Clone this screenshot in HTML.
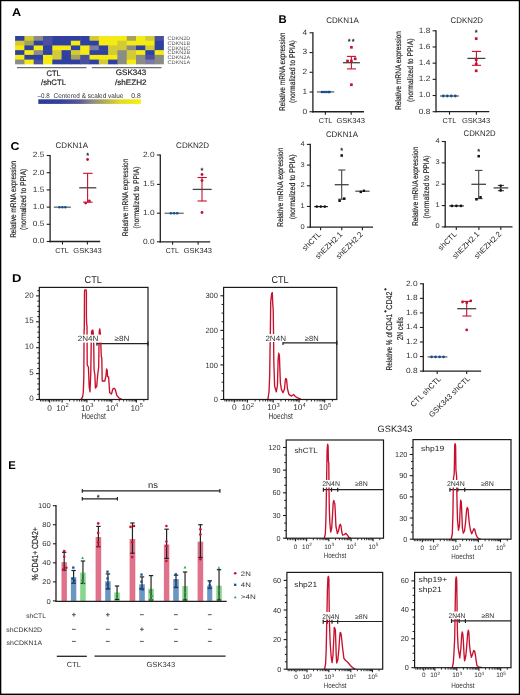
<!DOCTYPE html><html><head><meta charset="utf-8"><style>html,body{margin:0;padding:0;background:#fff;width:520px;height:695px;overflow:hidden;font-family:"Liberation Sans",sans-serif}</style></head><body><svg width="520" height="695" viewBox="0 0 520 695" style="position:absolute;left:0;top:0;will-change:transform" text-rendering="geometricPrecision" font-family='"Liberation Sans", sans-serif'>
<rect x="0" y="0" width="520" height="695" fill="#fff" />
<text transform="translate(11.9,15.8) scale(1.12,1)" x="0" y="0" font-size="11.3" font-weight="bold" fill="#000">A</text>
<rect x="15.1" y="36" width="9.9" height="5.32" fill="#2f40a0" />
<rect x="24.4" y="36" width="9.9" height="5.32" fill="#d2cb36" />
<rect x="33.7" y="36" width="9.9" height="5.32" fill="#8c8c86" />
<rect x="43" y="36" width="9.9" height="5.32" fill="#4a50a0" />
<rect x="52.3" y="36" width="9.9" height="5.32" fill="#2f40a0" />
<rect x="61.6" y="36" width="9.9" height="5.32" fill="#2f40a0" />
<rect x="70.9" y="36" width="9.9" height="5.32" fill="#2f40a0" />
<rect x="80.2" y="36" width="9.9" height="5.32" fill="#2f40a0" />
<rect x="89.5" y="36" width="9.9" height="5.32" fill="#d2cb36" />
<rect x="98.8" y="36" width="9.9" height="5.32" fill="#f5ea14" />
<rect x="108.1" y="36" width="9.9" height="5.32" fill="#f5ea14" />
<rect x="117.4" y="36" width="9.9" height="5.32" fill="#f5ea14" />
<rect x="126.7" y="36" width="9.9" height="5.32" fill="#a6a25a" />
<rect x="136" y="36" width="9.9" height="5.32" fill="#f5ea14" />
<rect x="145.3" y="36" width="9.9" height="5.32" fill="#d2cb36" />
<rect x="154.6" y="36" width="9.3" height="5.32" fill="#4a50a0" />
<rect x="15.1" y="40.72" width="9.9" height="5.32" fill="#d2cb36" />
<rect x="24.4" y="40.72" width="9.9" height="5.32" fill="#a6a25a" />
<rect x="33.7" y="40.72" width="9.9" height="5.32" fill="#2f40a0" />
<rect x="43" y="40.72" width="9.9" height="5.32" fill="#4a50a0" />
<rect x="52.3" y="40.72" width="9.9" height="5.32" fill="#2f40a0" />
<rect x="61.6" y="40.72" width="9.9" height="5.32" fill="#2f40a0" />
<rect x="70.9" y="40.72" width="9.9" height="5.32" fill="#f5ea14" />
<rect x="80.2" y="40.72" width="9.9" height="5.32" fill="#2f40a0" />
<rect x="89.5" y="40.72" width="9.9" height="5.32" fill="#2f40a0" />
<rect x="98.8" y="40.72" width="9.9" height="5.32" fill="#f5ea14" />
<rect x="108.1" y="40.72" width="9.9" height="5.32" fill="#f5ea14" />
<rect x="117.4" y="40.72" width="9.9" height="5.32" fill="#d2cb36" />
<rect x="126.7" y="40.72" width="9.9" height="5.32" fill="#f5ea14" />
<rect x="136" y="40.72" width="9.9" height="5.32" fill="#f5ea14" />
<rect x="145.3" y="40.72" width="9.9" height="5.32" fill="#f5ea14" />
<rect x="154.6" y="40.72" width="9.3" height="5.32" fill="#2f40a0" />
<rect x="15.1" y="45.44" width="9.9" height="5.32" fill="#f5ea14" />
<rect x="24.4" y="45.44" width="9.9" height="5.32" fill="#2f40a0" />
<rect x="33.7" y="45.44" width="9.9" height="5.32" fill="#f5ea14" />
<rect x="43" y="45.44" width="9.9" height="5.32" fill="#2f40a0" />
<rect x="52.3" y="45.44" width="9.9" height="5.32" fill="#f5ea14" />
<rect x="61.6" y="45.44" width="9.9" height="5.32" fill="#f5ea14" />
<rect x="70.9" y="45.44" width="9.9" height="5.32" fill="#2f40a0" />
<rect x="80.2" y="45.44" width="9.9" height="5.32" fill="#f5ea14" />
<rect x="89.5" y="45.44" width="9.9" height="5.32" fill="#7c7aa2" />
<rect x="98.8" y="45.44" width="9.9" height="5.32" fill="#2f40a0" />
<rect x="108.1" y="45.44" width="9.9" height="5.32" fill="#d2cb36" />
<rect x="117.4" y="45.44" width="9.9" height="5.32" fill="#d2cb36" />
<rect x="126.7" y="45.44" width="9.9" height="5.32" fill="#8c8c86" />
<rect x="136" y="45.44" width="9.9" height="5.32" fill="#2f40a0" />
<rect x="145.3" y="45.44" width="9.9" height="5.32" fill="#d2cb36" />
<rect x="154.6" y="45.44" width="9.3" height="5.32" fill="#2f40a0" />
<rect x="15.1" y="50.16" width="9.9" height="5.32" fill="#2f40a0" />
<rect x="24.4" y="50.16" width="9.9" height="5.32" fill="#f5ea14" />
<rect x="33.7" y="50.16" width="9.9" height="5.32" fill="#8c8c86" />
<rect x="43" y="50.16" width="9.9" height="5.32" fill="#2f40a0" />
<rect x="52.3" y="50.16" width="9.9" height="5.32" fill="#d2cb36" />
<rect x="61.6" y="50.16" width="9.9" height="5.32" fill="#2f40a0" />
<rect x="70.9" y="50.16" width="9.9" height="5.32" fill="#d2cb36" />
<rect x="80.2" y="50.16" width="9.9" height="5.32" fill="#f5ea14" />
<rect x="89.5" y="50.16" width="9.9" height="5.32" fill="#2f40a0" />
<rect x="98.8" y="50.16" width="9.9" height="5.32" fill="#2f40a0" />
<rect x="108.1" y="50.16" width="9.9" height="5.32" fill="#d2cb36" />
<rect x="117.4" y="50.16" width="9.9" height="5.32" fill="#8c8c86" />
<rect x="126.7" y="50.16" width="9.9" height="5.32" fill="#d2cb36" />
<rect x="136" y="50.16" width="9.9" height="5.32" fill="#f5ea14" />
<rect x="145.3" y="50.16" width="9.9" height="5.32" fill="#2f40a0" />
<rect x="154.6" y="50.16" width="9.3" height="5.32" fill="#f5ea14" />
<rect x="15.1" y="54.88" width="9.9" height="5.32" fill="#f5ea14" />
<rect x="24.4" y="54.88" width="9.9" height="5.32" fill="#2f40a0" />
<rect x="33.7" y="54.88" width="9.9" height="5.32" fill="#2f40a0" />
<rect x="43" y="54.88" width="9.9" height="5.32" fill="#f5ea14" />
<rect x="52.3" y="54.88" width="9.9" height="5.32" fill="#d2cb36" />
<rect x="61.6" y="54.88" width="9.9" height="5.32" fill="#2f40a0" />
<rect x="70.9" y="54.88" width="9.9" height="5.32" fill="#a6a25a" />
<rect x="80.2" y="54.88" width="9.9" height="5.32" fill="#4a50a0" />
<rect x="89.5" y="54.88" width="9.9" height="5.32" fill="#f5ea14" />
<rect x="98.8" y="54.88" width="9.9" height="5.32" fill="#f5ea14" />
<rect x="108.1" y="54.88" width="9.9" height="5.32" fill="#f5ea14" />
<rect x="117.4" y="54.88" width="9.9" height="5.32" fill="#8c8c86" />
<rect x="126.7" y="54.88" width="9.9" height="5.32" fill="#d2cb36" />
<rect x="136" y="54.88" width="9.9" height="5.32" fill="#8c8c86" />
<rect x="145.3" y="54.88" width="9.9" height="5.32" fill="#4a50a0" />
<rect x="154.6" y="54.88" width="9.3" height="5.32" fill="#8c8c86" />
<rect x="15.1" y="59.6" width="9.9" height="4.72" fill="#8c8c86" />
<rect x="24.4" y="59.6" width="9.9" height="4.72" fill="#f5ea14" />
<rect x="33.7" y="59.6" width="9.9" height="4.72" fill="#4a50a0" />
<rect x="43" y="59.6" width="9.9" height="4.72" fill="#f5ea14" />
<rect x="52.3" y="59.6" width="9.9" height="4.72" fill="#2f40a0" />
<rect x="61.6" y="59.6" width="9.9" height="4.72" fill="#2f40a0" />
<rect x="70.9" y="59.6" width="9.9" height="4.72" fill="#2f40a0" />
<rect x="80.2" y="59.6" width="9.9" height="4.72" fill="#4a50a0" />
<rect x="89.5" y="59.6" width="9.9" height="4.72" fill="#2f40a0" />
<rect x="98.8" y="59.6" width="9.9" height="4.72" fill="#d2cb36" />
<rect x="108.1" y="59.6" width="9.9" height="4.72" fill="#2f40a0" />
<rect x="117.4" y="59.6" width="9.9" height="4.72" fill="#8c8c86" />
<rect x="126.7" y="59.6" width="9.9" height="4.72" fill="#f5ea14" />
<rect x="136" y="59.6" width="9.9" height="4.72" fill="#8c8c86" />
<rect x="145.3" y="59.6" width="9.9" height="4.72" fill="#7c7aa2" />
<rect x="154.6" y="59.6" width="9.3" height="4.72" fill="#8c8c86" />
<text x="167.5" y="40.16" font-size="5.2" fill="#555" textLength="22.7" lengthAdjust="spacingAndGlyphs">CDKN2D</text>
<text x="167.5" y="44.88" font-size="5.2" fill="#555" textLength="22.7" lengthAdjust="spacingAndGlyphs">CDKN1B</text>
<text x="167.5" y="49.6" font-size="5.2" fill="#555" textLength="22.7" lengthAdjust="spacingAndGlyphs">CDKN1C</text>
<text x="167.5" y="54.32" font-size="5.2" fill="#555" textLength="22.7" lengthAdjust="spacingAndGlyphs">CDKN2B</text>
<text x="167.5" y="59.04" font-size="5.2" fill="#555" textLength="22.7" lengthAdjust="spacingAndGlyphs">CDKN2A</text>
<text x="167.5" y="63.76" font-size="5.2" fill="#555" textLength="22.7" lengthAdjust="spacingAndGlyphs">CDKN1A</text>
<line x1="16.9" y1="67.7" x2="86.5" y2="67.7" stroke="#6e6e6e" stroke-width="1.3"/>
<line x1="91.8" y1="67.7" x2="161.5" y2="67.7" stroke="#6e6e6e" stroke-width="1.3"/>
<text x="46.5" y="75.5" font-size="7.9" fill="#2a2a2a" stroke="#2a2a2a" stroke-width="0.22" textLength="14.1" lengthAdjust="spacingAndGlyphs">CTL</text>
<text x="41" y="84.7" font-size="7.9" fill="#2a2a2a" stroke="#2a2a2a" stroke-width="0.22" textLength="25" lengthAdjust="spacingAndGlyphs">/shCTL</text>
<text x="115.8" y="75.4" font-size="7.9" fill="#2a2a2a" stroke="#2a2a2a" stroke-width="0.22" textLength="30.5" lengthAdjust="spacingAndGlyphs">GSK343</text>
<text x="115" y="84.7" font-size="7.9" fill="#2a2a2a" stroke="#2a2a2a" stroke-width="0.22" textLength="31.5" lengthAdjust="spacingAndGlyphs">/shEZH2</text>
<defs><linearGradient id="cb" x1="0" x2="1" y1="0" y2="0"><stop offset="0" stop-color="#2b3b9c"/><stop offset="0.22" stop-color="#34409b"/><stop offset="0.4" stop-color="#5a5a92"/><stop offset="0.52" stop-color="#8a8982"/><stop offset="0.65" stop-color="#b3ad52"/><stop offset="0.8" stop-color="#e3dc22"/><stop offset="1" stop-color="#f6ee0c"/></linearGradient></defs>
<rect x="38.3" y="99.3" width="102.5" height="4.6" fill="url(#cb)" />
<text x="37.5" y="97.6" font-size="6.8" fill="#333" textLength="12.1" lengthAdjust="spacingAndGlyphs">–0.8</text>
<text x="53.6" y="97.6" font-size="6.8" fill="#333" textLength="69.7" lengthAdjust="spacingAndGlyphs">Centered &amp; scaled value</text>
<text x="131.3" y="97.6" font-size="6.8" fill="#333" textLength="9.5" lengthAdjust="spacingAndGlyphs">0.8</text>
<text transform="translate(278.6,23) scale(1.0,1)" x="0" y="0" font-size="11.3" font-weight="bold" fill="#000">B</text>
<text x="326.3" y="22.8" font-size="8.1" fill="#231f20" textLength="32.5" lengthAdjust="spacingAndGlyphs">CDKN1A</text>
<line x1="312.9" y1="32.2" x2="312.9" y2="112.4" stroke="#231f20" stroke-width="1.3"/>
<line x1="309.5" y1="111.75" x2="312.9" y2="111.75" stroke="#231f20" stroke-width="1.1"/>
<text x="307.2" y="113.65" font-size="7.6" text-anchor="end" fill="#333" textLength="4.65" lengthAdjust="spacingAndGlyphs">0</text>
<line x1="309.5" y1="92.01" x2="312.9" y2="92.01" stroke="#231f20" stroke-width="1.1"/>
<text x="307.2" y="93.91" font-size="7.6" text-anchor="end" fill="#333" textLength="4.65" lengthAdjust="spacingAndGlyphs">1</text>
<line x1="309.5" y1="72.28" x2="312.9" y2="72.28" stroke="#231f20" stroke-width="1.1"/>
<text x="307.2" y="74.18" font-size="7.6" text-anchor="end" fill="#333" textLength="4.65" lengthAdjust="spacingAndGlyphs">2</text>
<line x1="309.5" y1="52.54" x2="312.9" y2="52.54" stroke="#231f20" stroke-width="1.1"/>
<text x="307.2" y="54.44" font-size="7.6" text-anchor="end" fill="#333" textLength="4.65" lengthAdjust="spacingAndGlyphs">3</text>
<line x1="309.5" y1="32.8" x2="312.9" y2="32.8" stroke="#231f20" stroke-width="1.1"/>
<text x="307.2" y="34.7" font-size="7.6" text-anchor="end" fill="#333" textLength="4.65" lengthAdjust="spacingAndGlyphs">4</text>
<line x1="312.25" y1="111.75" x2="364" y2="111.75" stroke="#231f20" stroke-width="1.3"/>
<line x1="325.4" y1="111.75" x2="325.4" y2="114.75" stroke="#231f20" stroke-width="1.1"/>
<line x1="351.2" y1="111.75" x2="351.2" y2="114.75" stroke="#231f20" stroke-width="1.1"/>
<text x="318.7" y="123.1" font-size="7.2" fill="#231f20" textLength="13.7" lengthAdjust="spacingAndGlyphs">CTL</text>
<text x="336.4" y="123.1" font-size="7.2" fill="#231f20" textLength="28.6" lengthAdjust="spacingAndGlyphs">GSK343</text>
<text transform="translate(284.9,110.9) rotate(-90)" x="0" y="0" font-size="8.2" fill="#231f20" stroke="#231f20" stroke-width="0.18" textLength="78.4" lengthAdjust="spacingAndGlyphs">Relative mRNA expression</text>
<text transform="translate(295.4,103.1) rotate(-90)" x="0" y="0" font-size="8.2" fill="#231f20" stroke="#231f20" stroke-width="0.18" textLength="62.8" lengthAdjust="spacingAndGlyphs">(normalized to PPIA)</text>
<line x1="316.9" y1="91.9" x2="334.3" y2="91.9" stroke="#7a7a7a" stroke-width="1.5"/>
<circle cx="322" cy="92" r="1.35" fill="#13508f"/>
<circle cx="324.2" cy="92" r="1.35" fill="#13508f"/>
<circle cx="326.4" cy="92" r="1.35" fill="#13508f"/>
<circle cx="328.6" cy="92" r="1.35" fill="#13508f"/>
<circle cx="329.6" cy="92" r="1.35" fill="#13508f"/>
<line x1="351.4" y1="56.4" x2="351.4" y2="68.9" stroke="#c8102e" stroke-width="1.1"/>
<line x1="346.9" y1="56.4" x2="356" y2="56.4" stroke="#c8102e" stroke-width="1.1"/>
<line x1="346.9" y1="68.9" x2="356" y2="68.9" stroke="#c8102e" stroke-width="1.1"/>
<line x1="342.9" y1="62.7" x2="359.9" y2="62.7" stroke="#444" stroke-width="1.3"/>
<rect x="350.05" y="45.95" width="2.7" height="2.7" fill="#c8102e" />
<rect x="353.85" y="57.45" width="2.7" height="2.7" fill="#c8102e" />
<rect x="346.15" y="59.65" width="2.7" height="2.7" fill="#c8102e" />
<rect x="350.05" y="59.65" width="2.7" height="2.7" fill="#c8102e" />
<rect x="350.05" y="83.35" width="2.7" height="2.7" fill="#c8102e" />
<text x="349.15" y="44.05" font-size="7.5" text-anchor="middle" font-weight="bold" fill="#222">*</text>
<text x="353.25" y="44.05" font-size="7.5" text-anchor="middle" font-weight="bold" fill="#222">*</text>
<text x="450.6" y="22.6" font-size="8.1" fill="#231f20" textLength="32.4" lengthAdjust="spacingAndGlyphs">CDKN2D</text>
<line x1="436" y1="30.2" x2="436" y2="112.35" stroke="#231f20" stroke-width="1.3"/>
<line x1="432.6" y1="111.7" x2="436" y2="111.7" stroke="#231f20" stroke-width="1.1"/>
<text x="430.3" y="113.6" font-size="7.6" text-anchor="end" fill="#333" textLength="11.62" lengthAdjust="spacingAndGlyphs">0.8</text>
<line x1="432.6" y1="95.52" x2="436" y2="95.52" stroke="#231f20" stroke-width="1.1"/>
<text x="430.3" y="97.42" font-size="7.6" text-anchor="end" fill="#333" textLength="11.62" lengthAdjust="spacingAndGlyphs">1.0</text>
<line x1="432.6" y1="79.34" x2="436" y2="79.34" stroke="#231f20" stroke-width="1.1"/>
<text x="430.3" y="81.24" font-size="7.6" text-anchor="end" fill="#333" textLength="11.62" lengthAdjust="spacingAndGlyphs">1.2</text>
<line x1="432.6" y1="63.16" x2="436" y2="63.16" stroke="#231f20" stroke-width="1.1"/>
<text x="430.3" y="65.06" font-size="7.6" text-anchor="end" fill="#333" textLength="11.62" lengthAdjust="spacingAndGlyphs">1.4</text>
<line x1="432.6" y1="46.98" x2="436" y2="46.98" stroke="#231f20" stroke-width="1.1"/>
<text x="430.3" y="48.88" font-size="7.6" text-anchor="end" fill="#333" textLength="11.62" lengthAdjust="spacingAndGlyphs">1.6</text>
<line x1="432.6" y1="30.8" x2="436" y2="30.8" stroke="#231f20" stroke-width="1.1"/>
<text x="430.3" y="32.7" font-size="7.6" text-anchor="end" fill="#333" textLength="11.62" lengthAdjust="spacingAndGlyphs">1.8</text>
<line x1="435.35" y1="111.7" x2="489.3" y2="111.7" stroke="#231f20" stroke-width="1.3"/>
<line x1="449.5" y1="111.7" x2="449.5" y2="114.7" stroke="#231f20" stroke-width="1.1"/>
<line x1="476.4" y1="111.7" x2="476.4" y2="114.7" stroke="#231f20" stroke-width="1.1"/>
<text x="442.5" y="122.7" font-size="7.2" fill="#231f20" textLength="13.9" lengthAdjust="spacingAndGlyphs">CTL</text>
<text x="461.9" y="122.7" font-size="7.2" fill="#231f20" textLength="28.3" lengthAdjust="spacingAndGlyphs">GSK343</text>
<text transform="translate(401.4,110) rotate(-90)" x="0" y="0" font-size="8.2" fill="#231f20" stroke="#231f20" stroke-width="0.18" textLength="79" lengthAdjust="spacingAndGlyphs">Relative mRNA expression</text>
<text transform="translate(412.6,102) rotate(-90)" x="0" y="0" font-size="8.2" fill="#231f20" stroke="#231f20" stroke-width="0.18" textLength="63.6" lengthAdjust="spacingAndGlyphs">(normalized to PPIA)</text>
<line x1="440" y1="96" x2="458.9" y2="96" stroke="#7a7a7a" stroke-width="1.5"/>
<circle cx="443.3" cy="96" r="1.4" fill="#13508f"/>
<circle cx="447.3" cy="96" r="1.4" fill="#13508f"/>
<circle cx="451.3" cy="96" r="1.4" fill="#13508f"/>
<circle cx="455.3" cy="96" r="1.4" fill="#13508f"/>
<line x1="476.4" y1="51.4" x2="476.4" y2="65.3" stroke="#c8102e" stroke-width="1.1"/>
<line x1="471.9" y1="51.4" x2="481.1" y2="51.4" stroke="#c8102e" stroke-width="1.1"/>
<line x1="471.9" y1="65.3" x2="481.1" y2="65.3" stroke="#c8102e" stroke-width="1.1"/>
<line x1="467.4" y1="58.4" x2="485.4" y2="58.4" stroke="#444" stroke-width="1.3"/>
<rect x="474.85" y="37.25" width="2.7" height="2.7" fill="#c8102e" />
<rect x="474.85" y="58.35" width="2.7" height="2.7" fill="#c8102e" />
<rect x="474.85" y="62.65" width="2.7" height="2.7" fill="#c8102e" />
<rect x="474.85" y="69.45" width="2.7" height="2.7" fill="#c8102e" />
<text x="476.1" y="35.05" font-size="7.5" text-anchor="middle" font-weight="bold" fill="#222">*</text>
<text x="325.9" y="136.6" font-size="8.1" fill="#231f20" textLength="32.2" lengthAdjust="spacingAndGlyphs">CDKN1A</text>
<line x1="310.3" y1="143.8" x2="310.3" y2="227.8" stroke="#231f20" stroke-width="1.3"/>
<line x1="306.9" y1="227.15" x2="310.3" y2="227.15" stroke="#231f20" stroke-width="1.1"/>
<text x="304.7" y="228.65" font-size="6.8" text-anchor="end" fill="#333" textLength="4.16" lengthAdjust="spacingAndGlyphs">0</text>
<line x1="306.9" y1="206.46" x2="310.3" y2="206.46" stroke="#231f20" stroke-width="1.1"/>
<text x="304.7" y="207.96" font-size="6.8" text-anchor="end" fill="#333" textLength="4.16" lengthAdjust="spacingAndGlyphs">1</text>
<line x1="306.9" y1="185.78" x2="310.3" y2="185.78" stroke="#231f20" stroke-width="1.1"/>
<text x="304.7" y="187.28" font-size="6.8" text-anchor="end" fill="#333" textLength="4.16" lengthAdjust="spacingAndGlyphs">2</text>
<line x1="306.9" y1="165.09" x2="310.3" y2="165.09" stroke="#231f20" stroke-width="1.1"/>
<text x="304.7" y="166.59" font-size="6.8" text-anchor="end" fill="#333" textLength="4.16" lengthAdjust="spacingAndGlyphs">3</text>
<line x1="306.9" y1="144.4" x2="310.3" y2="144.4" stroke="#231f20" stroke-width="1.1"/>
<text x="304.7" y="145.9" font-size="6.8" text-anchor="end" fill="#333" textLength="4.16" lengthAdjust="spacingAndGlyphs">4</text>
<line x1="309.65" y1="227.15" x2="373" y2="227.15" stroke="#231f20" stroke-width="1.3"/>
<line x1="320.6" y1="227.15" x2="320.6" y2="230.15" stroke="#231f20" stroke-width="1.1"/>
<line x1="341.8" y1="227.15" x2="341.8" y2="230.15" stroke="#231f20" stroke-width="1.1"/>
<line x1="362.4" y1="227.15" x2="362.4" y2="230.15" stroke="#231f20" stroke-width="1.1"/>
<text transform="translate(282.5,226.9) rotate(-90)" x="0" y="0" font-size="8.2" fill="#231f20" stroke="#231f20" stroke-width="0.18" textLength="79.4" lengthAdjust="spacingAndGlyphs">Relative mRNA expression</text>
<text transform="translate(294.6,219.3) rotate(-90)" x="0" y="0" font-size="8.2" fill="#231f20" stroke="#231f20" stroke-width="0.18" textLength="64.9" lengthAdjust="spacingAndGlyphs">(normalized to PPIA)</text>
<text transform="translate(321.6,235) rotate(-45)" x="0" y="0" font-size="7.8" text-anchor="end" fill="#231f20">shCTL</text>
<text transform="translate(342.8,235) rotate(-45)" x="0" y="0" font-size="7.8" text-anchor="end" fill="#231f20">shEZH2.1</text>
<text transform="translate(363.4,235) rotate(-45)" x="0" y="0" font-size="7.8" text-anchor="end" fill="#231f20">shEZH2.2</text>
<line x1="314.2" y1="206.6" x2="327.9" y2="206.6" stroke="#222" stroke-width="1.2"/>
<circle cx="316.8" cy="206.6" r="1.3" fill="#111"/>
<circle cx="320.8" cy="206.6" r="1.3" fill="#111"/>
<circle cx="324.8" cy="206.6" r="1.3" fill="#111"/>
<line x1="341.7" y1="170" x2="341.7" y2="199.2" stroke="#444" stroke-width="1.1"/>
<line x1="338.2" y1="170" x2="345.4" y2="170" stroke="#444" stroke-width="1.1"/>
<line x1="338.2" y1="199.2" x2="345.4" y2="199.2" stroke="#444" stroke-width="1.1"/>
<line x1="334.7" y1="184.7" x2="348.7" y2="184.7" stroke="#444" stroke-width="1.3"/>
<rect x="340.45" y="154.25" width="2.5" height="2.5" fill="#111" />
<rect x="338.35" y="199.45" width="2.5" height="2.5" fill="#111" />
<rect x="342.95" y="197.35" width="2.5" height="2.5" fill="#111" />
<text x="341.6" y="153.45" font-size="7.5" text-anchor="middle" font-weight="bold" fill="#222">*</text>
<line x1="355.3" y1="191.2" x2="369.6" y2="191.2" stroke="#444" stroke-width="1.2"/>
<rect x="359.6" y="190.7" width="2.4" height="2.4" fill="#111" />
<rect x="362.7" y="189.6" width="2.4" height="2.4" fill="#111" />
<text x="463.6" y="136.4" font-size="8.1" fill="#231f20" textLength="32" lengthAdjust="spacingAndGlyphs">CDKN2D</text>
<line x1="445.2" y1="140.9" x2="445.2" y2="227.55" stroke="#231f20" stroke-width="1.3"/>
<line x1="441.8" y1="226.9" x2="445.2" y2="226.9" stroke="#231f20" stroke-width="1.1"/>
<text x="439.6" y="228.4" font-size="6.8" text-anchor="end" fill="#333" textLength="4.16" lengthAdjust="spacingAndGlyphs">0</text>
<line x1="441.8" y1="205.55" x2="445.2" y2="205.55" stroke="#231f20" stroke-width="1.1"/>
<text x="439.6" y="207.05" font-size="6.8" text-anchor="end" fill="#333" textLength="4.16" lengthAdjust="spacingAndGlyphs">1</text>
<line x1="441.8" y1="184.2" x2="445.2" y2="184.2" stroke="#231f20" stroke-width="1.1"/>
<text x="439.6" y="185.7" font-size="6.8" text-anchor="end" fill="#333" textLength="4.16" lengthAdjust="spacingAndGlyphs">2</text>
<line x1="441.8" y1="162.85" x2="445.2" y2="162.85" stroke="#231f20" stroke-width="1.1"/>
<text x="439.6" y="164.35" font-size="6.8" text-anchor="end" fill="#333" textLength="4.16" lengthAdjust="spacingAndGlyphs">3</text>
<line x1="441.8" y1="141.5" x2="445.2" y2="141.5" stroke="#231f20" stroke-width="1.1"/>
<text x="439.6" y="143" font-size="6.8" text-anchor="end" fill="#333" textLength="4.16" lengthAdjust="spacingAndGlyphs">4</text>
<line x1="444.55" y1="226.9" x2="512.5" y2="226.9" stroke="#231f20" stroke-width="1.3"/>
<line x1="456.3" y1="226.9" x2="456.3" y2="229.9" stroke="#231f20" stroke-width="1.1"/>
<line x1="478.9" y1="226.9" x2="478.9" y2="229.9" stroke="#231f20" stroke-width="1.1"/>
<line x1="500.8" y1="226.9" x2="500.8" y2="229.9" stroke="#231f20" stroke-width="1.1"/>
<text transform="translate(417.5,226) rotate(-90)" x="0" y="0" font-size="8.2" fill="#231f20" stroke="#231f20" stroke-width="0.18" textLength="79.4" lengthAdjust="spacingAndGlyphs">Relative mRNA expression</text>
<text transform="translate(429.2,218.4) rotate(-90)" x="0" y="0" font-size="8.2" fill="#231f20" stroke="#231f20" stroke-width="0.18" textLength="62.9" lengthAdjust="spacingAndGlyphs">(normalized to PPIA)</text>
<text transform="translate(457.3,234.8) rotate(-45)" x="0" y="0" font-size="7.8" text-anchor="end" fill="#231f20">shCTL</text>
<text transform="translate(479.9,234.8) rotate(-45)" x="0" y="0" font-size="7.8" text-anchor="end" fill="#231f20">shEZH2.1</text>
<text transform="translate(501.8,234.8) rotate(-45)" x="0" y="0" font-size="7.8" text-anchor="end" fill="#231f20">shEZH2.2</text>
<line x1="449.2" y1="205.9" x2="463.8" y2="205.9" stroke="#222" stroke-width="1.2"/>
<circle cx="451.9" cy="205.9" r="1.3" fill="#111"/>
<circle cx="456.4" cy="205.9" r="1.3" fill="#111"/>
<circle cx="460.9" cy="205.9" r="1.3" fill="#111"/>
<line x1="478.7" y1="170.4" x2="478.7" y2="198.6" stroke="#444" stroke-width="1.1"/>
<line x1="474.9" y1="170.4" x2="482.5" y2="170.4" stroke="#444" stroke-width="1.1"/>
<line x1="474.9" y1="198.6" x2="482.5" y2="198.6" stroke="#444" stroke-width="1.1"/>
<line x1="471.4" y1="184.3" x2="486" y2="184.3" stroke="#444" stroke-width="1.3"/>
<rect x="477.45" y="154.95" width="2.5" height="2.5" fill="#111" />
<rect x="475.25" y="198.05" width="2.5" height="2.5" fill="#111" />
<rect x="479.25" y="196.05" width="2.5" height="2.5" fill="#111" />
<text x="478.7" y="154.25" font-size="7.5" text-anchor="middle" font-weight="bold" fill="#222">*</text>
<line x1="500.7" y1="185.4" x2="500.7" y2="190.7" stroke="#444" stroke-width="1.1"/>
<line x1="497.8" y1="185.4" x2="504" y2="185.4" stroke="#444" stroke-width="1.1"/>
<line x1="497.8" y1="190.7" x2="504" y2="190.7" stroke="#444" stroke-width="1.1"/>
<line x1="493.6" y1="187.9" x2="508.2" y2="187.9" stroke="#444" stroke-width="1.3"/>
<circle cx="500.7" cy="185.8" r="1.3" fill="#111"/>
<circle cx="500.7" cy="190.4" r="1.3" fill="#111"/>
<text transform="translate(10.4,149.8) scale(1.1,1)" x="0" y="0" font-size="11.3" font-weight="bold" fill="#000">C</text>
<text x="55.6" y="148.4" font-size="8.1" fill="#231f20" textLength="32.4" lengthAdjust="spacingAndGlyphs">CDKN1A</text>
<line x1="50.1" y1="154.9" x2="50.1" y2="242.15" stroke="#231f20" stroke-width="1.3"/>
<line x1="46.7" y1="241.5" x2="50.1" y2="241.5" stroke="#231f20" stroke-width="1.1"/>
<text x="44.4" y="243.4" font-size="7.6" text-anchor="end" fill="#333" textLength="11.62" lengthAdjust="spacingAndGlyphs">0.0</text>
<line x1="46.7" y1="224.3" x2="50.1" y2="224.3" stroke="#231f20" stroke-width="1.1"/>
<text x="44.4" y="226.2" font-size="7.6" text-anchor="end" fill="#333" textLength="11.62" lengthAdjust="spacingAndGlyphs">0.5</text>
<line x1="46.7" y1="207.1" x2="50.1" y2="207.1" stroke="#231f20" stroke-width="1.1"/>
<text x="44.4" y="209" font-size="7.6" text-anchor="end" fill="#333" textLength="11.62" lengthAdjust="spacingAndGlyphs">1.0</text>
<line x1="46.7" y1="189.9" x2="50.1" y2="189.9" stroke="#231f20" stroke-width="1.1"/>
<text x="44.4" y="191.8" font-size="7.6" text-anchor="end" fill="#333" textLength="11.62" lengthAdjust="spacingAndGlyphs">1.5</text>
<line x1="46.7" y1="172.7" x2="50.1" y2="172.7" stroke="#231f20" stroke-width="1.1"/>
<text x="44.4" y="174.6" font-size="7.6" text-anchor="end" fill="#333" textLength="11.62" lengthAdjust="spacingAndGlyphs">2.0</text>
<line x1="46.7" y1="155.5" x2="50.1" y2="155.5" stroke="#231f20" stroke-width="1.1"/>
<text x="44.4" y="157.4" font-size="7.6" text-anchor="end" fill="#333" textLength="11.62" lengthAdjust="spacingAndGlyphs">2.5</text>
<line x1="49.45" y1="241.5" x2="100.2" y2="241.5" stroke="#231f20" stroke-width="1.3"/>
<line x1="62.5" y1="241.5" x2="62.5" y2="244.5" stroke="#231f20" stroke-width="1.1"/>
<line x1="87.4" y1="241.5" x2="87.4" y2="244.5" stroke="#231f20" stroke-width="1.1"/>
<text x="55.2" y="252.5" font-size="7.2" fill="#231f20" textLength="13.6" lengthAdjust="spacingAndGlyphs">CTL</text>
<text x="73.3" y="252.5" font-size="7.2" fill="#231f20" textLength="28.4" lengthAdjust="spacingAndGlyphs">GSK343</text>
<text transform="translate(15.6,237.8) rotate(-90)" x="0" y="0" font-size="8.2" fill="#231f20" stroke="#231f20" stroke-width="0.18" textLength="77" lengthAdjust="spacingAndGlyphs">Relative mRNA expression</text>
<text transform="translate(26.4,229.9) rotate(-90)" x="0" y="0" font-size="8.2" fill="#231f20" stroke="#231f20" stroke-width="0.18" textLength="61.2" lengthAdjust="spacingAndGlyphs">(normalized to PPIA)</text>
<line x1="53.8" y1="207.2" x2="70.9" y2="207.2" stroke="#7a7a7a" stroke-width="1.5"/>
<circle cx="59.4" cy="207.2" r="1.25" fill="#13508f"/>
<circle cx="62.4" cy="207.2" r="1.25" fill="#13508f"/>
<circle cx="65.3" cy="207.2" r="1.25" fill="#13508f"/>
<line x1="87.6" y1="173.3" x2="87.6" y2="202.2" stroke="#c8102e" stroke-width="1.1"/>
<line x1="83.1" y1="173.3" x2="92.6" y2="173.3" stroke="#c8102e" stroke-width="1.1"/>
<line x1="83.1" y1="202.2" x2="92.6" y2="202.2" stroke="#c8102e" stroke-width="1.1"/>
<line x1="79.2" y1="187.8" x2="96.3" y2="187.8" stroke="#444" stroke-width="1.3"/>
<circle cx="87.6" cy="159.5" r="1.4" fill="#c8102e"/>
<circle cx="85.7" cy="203.1" r="1.4" fill="#c8102e"/>
<circle cx="89.4" cy="200.9" r="1.4" fill="#c8102e"/>
<text x="87.6" y="158.45" font-size="7.5" text-anchor="middle" font-weight="bold" fill="#222">*</text>
<text x="176.1" y="148.4" font-size="8.1" fill="#231f20" textLength="33" lengthAdjust="spacingAndGlyphs">CDKN2D</text>
<line x1="160.3" y1="154.4" x2="160.3" y2="242.45" stroke="#231f20" stroke-width="1.3"/>
<line x1="156.9" y1="241.8" x2="160.3" y2="241.8" stroke="#231f20" stroke-width="1.1"/>
<text x="154.6" y="243.7" font-size="7.6" text-anchor="end" fill="#333" textLength="11.62" lengthAdjust="spacingAndGlyphs">0.0</text>
<line x1="156.9" y1="213.2" x2="160.3" y2="213.2" stroke="#231f20" stroke-width="1.1"/>
<text x="154.6" y="215.1" font-size="7.6" text-anchor="end" fill="#333" textLength="11.62" lengthAdjust="spacingAndGlyphs">1.0</text>
<line x1="156.9" y1="184.4" x2="160.3" y2="184.4" stroke="#231f20" stroke-width="1.1"/>
<text x="154.6" y="186.3" font-size="7.6" text-anchor="end" fill="#333" textLength="11.62" lengthAdjust="spacingAndGlyphs">1.5</text>
<line x1="156.9" y1="155" x2="160.3" y2="155" stroke="#231f20" stroke-width="1.1"/>
<text x="154.6" y="156.9" font-size="7.6" text-anchor="end" fill="#333" textLength="11.62" lengthAdjust="spacingAndGlyphs">2.0</text>
<line x1="159.65" y1="241.8" x2="210.2" y2="241.8" stroke="#231f20" stroke-width="1.3"/>
<line x1="172.6" y1="241.8" x2="172.6" y2="244.8" stroke="#231f20" stroke-width="1.1"/>
<line x1="198.1" y1="241.8" x2="198.1" y2="244.8" stroke="#231f20" stroke-width="1.1"/>
<text x="165.7" y="252.5" font-size="7.2" fill="#231f20" textLength="13.2" lengthAdjust="spacingAndGlyphs">CTL</text>
<text x="183.7" y="252.5" font-size="7.2" fill="#231f20" textLength="28.3" lengthAdjust="spacingAndGlyphs">GSK343</text>
<text transform="translate(127.8,236.3) rotate(-90)" x="0" y="0" font-size="8.2" fill="#231f20" stroke="#231f20" stroke-width="0.18" textLength="77.7" lengthAdjust="spacingAndGlyphs">Relative mRNA expression</text>
<text transform="translate(138.6,228.4) rotate(-90)" x="0" y="0" font-size="8.2" fill="#231f20" stroke="#231f20" stroke-width="0.18" textLength="61.9" lengthAdjust="spacingAndGlyphs">(normalized to PPIA)</text>
<line x1="164.6" y1="213.3" x2="183.7" y2="213.3" stroke="#7a7a7a" stroke-width="1.5"/>
<circle cx="170.9" cy="213.3" r="1.3" fill="#13508f"/>
<circle cx="174.1" cy="213.3" r="1.3" fill="#13508f"/>
<circle cx="177.2" cy="213.3" r="1.3" fill="#13508f"/>
<line x1="202" y1="177.5" x2="202" y2="201" stroke="#c8102e" stroke-width="1.1"/>
<line x1="197.5" y1="177.5" x2="206.8" y2="177.5" stroke="#c8102e" stroke-width="1.1"/>
<line x1="197.5" y1="201" x2="206.8" y2="201" stroke="#c8102e" stroke-width="1.1"/>
<line x1="192.7" y1="189.4" x2="211.7" y2="189.4" stroke="#444" stroke-width="1.3"/>
<circle cx="202" cy="174.5" r="1.4" fill="#c8102e"/>
<circle cx="202" cy="180.6" r="1.4" fill="#c8102e"/>
<circle cx="202" cy="212.5" r="1.4" fill="#c8102e"/>
<text x="202" y="173.05" font-size="7.5" text-anchor="middle" font-weight="bold" fill="#222">*</text>
<text transform="translate(12,282.3) scale(1.15,1)" x="0" y="0" font-size="11.3" font-weight="bold" fill="#000">D</text>
<line x1="96.9" y1="343.6" x2="148" y2="343.6" stroke="#222" stroke-width="1.2"/>
<line x1="96.9" y1="341.4" x2="96.9" y2="345.8" stroke="#222" stroke-width="1.2"/>
<line x1="148" y1="341.4" x2="148" y2="345.8" stroke="#222" stroke-width="1.2"/>
<polyline points="81.10,399.20 82.60,397.00 83.30,392.00 83.80,378.00 84.00,345.00 84.10,330.00 84.30,329.00 84.40,310.00 84.50,292.00 84.80,289.90 86.10,289.90 86.40,292.00 86.40,315.00 86.60,323.00 87.00,326.00 87.10,345.00 87.20,365.00 88.40,367.00 89.20,387.00 90.00,391.80 90.80,372.00 91.20,345.00 91.60,331.00 92.20,335.00 92.80,330.00 93.40,334.00 93.70,343.00 94.10,370.00 94.90,375.00 95.40,388.00 96.70,386.40 97.80,374.00 98.70,366.80 99.00,345.00 99.30,331.00 99.80,329.00 100.40,334.00 100.80,344.00 101.30,356.50 101.80,358.00 102.20,381.00 104.80,381.00 106.00,375.70 106.60,369.00 107.20,370.00 107.60,376.60 108.60,377.00 109.70,392.70 111.50,394.00 112.80,389.10 114.00,388.20 115.30,389.50 116.80,395.40 119.10,398.00 121.50,399.20" fill="none" stroke="#c8102e" stroke-width="1.35" stroke-linejoin="round"/>
<rect x="77" y="334.6" width="24.8" height="8" fill="#fff" />
<text x="77.7" y="341" font-size="7.6" fill="#333" textLength="20.6" lengthAdjust="spacingAndGlyphs">2N4N</text>
<text x="114.6" y="341" font-size="7.6" fill="#333" textLength="14.8" lengthAdjust="spacingAndGlyphs">≥8N</text>
<rect x="39.3" y="287.4" width="108.7" height="112.1" fill="none" stroke="#1a1a1a" stroke-width="1.2"/>
<line x1="36.1" y1="399.5" x2="39.3" y2="399.5" stroke="#1a1a1a" stroke-width="1.1"/>
<text x="33.6" y="401.1" font-size="8.0" text-anchor="end" fill="#333">0</text>
<line x1="36.1" y1="373.6" x2="39.3" y2="373.6" stroke="#1a1a1a" stroke-width="1.1"/>
<text x="33.6" y="375.2" font-size="8.0" text-anchor="end" fill="#333">5</text>
<line x1="36.1" y1="347.7" x2="39.3" y2="347.7" stroke="#1a1a1a" stroke-width="1.1"/>
<text x="33.6" y="349.3" font-size="8.0" text-anchor="end" fill="#333">10</text>
<line x1="36.1" y1="321.8" x2="39.3" y2="321.8" stroke="#1a1a1a" stroke-width="1.1"/>
<text x="33.6" y="323.4" font-size="8.0" text-anchor="end" fill="#333">15</text>
<line x1="36.1" y1="295.9" x2="39.3" y2="295.9" stroke="#1a1a1a" stroke-width="1.1"/>
<text x="33.6" y="297.5" font-size="8.0" text-anchor="end" fill="#333">20</text>
<line x1="37.3" y1="394.32" x2="39.3" y2="394.32" stroke="#1a1a1a" stroke-width="1.0"/>
<line x1="37.3" y1="389.14" x2="39.3" y2="389.14" stroke="#1a1a1a" stroke-width="1.0"/>
<line x1="37.3" y1="383.96" x2="39.3" y2="383.96" stroke="#1a1a1a" stroke-width="1.0"/>
<line x1="37.3" y1="378.78" x2="39.3" y2="378.78" stroke="#1a1a1a" stroke-width="1.0"/>
<line x1="37.3" y1="368.42" x2="39.3" y2="368.42" stroke="#1a1a1a" stroke-width="1.0"/>
<line x1="37.3" y1="363.24" x2="39.3" y2="363.24" stroke="#1a1a1a" stroke-width="1.0"/>
<line x1="37.3" y1="358.06" x2="39.3" y2="358.06" stroke="#1a1a1a" stroke-width="1.0"/>
<line x1="37.3" y1="352.88" x2="39.3" y2="352.88" stroke="#1a1a1a" stroke-width="1.0"/>
<line x1="37.3" y1="342.52" x2="39.3" y2="342.52" stroke="#1a1a1a" stroke-width="1.0"/>
<line x1="37.3" y1="337.34" x2="39.3" y2="337.34" stroke="#1a1a1a" stroke-width="1.0"/>
<line x1="37.3" y1="332.16" x2="39.3" y2="332.16" stroke="#1a1a1a" stroke-width="1.0"/>
<line x1="37.3" y1="326.98" x2="39.3" y2="326.98" stroke="#1a1a1a" stroke-width="1.0"/>
<line x1="37.3" y1="316.62" x2="39.3" y2="316.62" stroke="#1a1a1a" stroke-width="1.0"/>
<line x1="37.3" y1="311.44" x2="39.3" y2="311.44" stroke="#1a1a1a" stroke-width="1.0"/>
<line x1="37.3" y1="306.26" x2="39.3" y2="306.26" stroke="#1a1a1a" stroke-width="1.0"/>
<line x1="37.3" y1="301.08" x2="39.3" y2="301.08" stroke="#1a1a1a" stroke-width="1.0"/>
<line x1="37.3" y1="290.72" x2="39.3" y2="290.72" stroke="#1a1a1a" stroke-width="1.0"/>
<line x1="49.63" y1="399.5" x2="49.63" y2="402.5" stroke="#1a1a1a" stroke-width="1.1"/>
<line x1="62.13" y1="399.5" x2="62.13" y2="402.5" stroke="#1a1a1a" stroke-width="1.1"/>
<line x1="86.91" y1="399.5" x2="86.91" y2="402.5" stroke="#1a1a1a" stroke-width="1.1"/>
<line x1="111.8" y1="399.5" x2="111.8" y2="402.5" stroke="#1a1a1a" stroke-width="1.1"/>
<line x1="136.37" y1="399.5" x2="136.37" y2="402.5" stroke="#1a1a1a" stroke-width="1.1"/>
<line x1="69.59" y1="399.5" x2="69.59" y2="401.5" stroke="#1a1a1a" stroke-width="0.9"/>
<line x1="73.95" y1="399.5" x2="73.95" y2="401.5" stroke="#1a1a1a" stroke-width="0.9"/>
<line x1="77.05" y1="399.5" x2="77.05" y2="401.5" stroke="#1a1a1a" stroke-width="0.9"/>
<line x1="79.45" y1="399.5" x2="79.45" y2="401.5" stroke="#1a1a1a" stroke-width="0.9"/>
<line x1="81.41" y1="399.5" x2="81.41" y2="401.5" stroke="#1a1a1a" stroke-width="0.9"/>
<line x1="83.07" y1="399.5" x2="83.07" y2="401.5" stroke="#1a1a1a" stroke-width="0.9"/>
<line x1="84.51" y1="399.5" x2="84.51" y2="401.5" stroke="#1a1a1a" stroke-width="0.9"/>
<line x1="85.78" y1="399.5" x2="85.78" y2="401.5" stroke="#1a1a1a" stroke-width="0.9"/>
<line x1="94.37" y1="399.5" x2="94.37" y2="401.5" stroke="#1a1a1a" stroke-width="0.9"/>
<line x1="98.74" y1="399.5" x2="98.74" y2="401.5" stroke="#1a1a1a" stroke-width="0.9"/>
<line x1="101.83" y1="399.5" x2="101.83" y2="401.5" stroke="#1a1a1a" stroke-width="0.9"/>
<line x1="104.23" y1="399.5" x2="104.23" y2="401.5" stroke="#1a1a1a" stroke-width="0.9"/>
<line x1="106.2" y1="399.5" x2="106.2" y2="401.5" stroke="#1a1a1a" stroke-width="0.9"/>
<line x1="107.86" y1="399.5" x2="107.86" y2="401.5" stroke="#1a1a1a" stroke-width="0.9"/>
<line x1="109.29" y1="399.5" x2="109.29" y2="401.5" stroke="#1a1a1a" stroke-width="0.9"/>
<line x1="110.56" y1="399.5" x2="110.56" y2="401.5" stroke="#1a1a1a" stroke-width="0.9"/>
<line x1="119.26" y1="399.5" x2="119.26" y2="401.5" stroke="#1a1a1a" stroke-width="0.9"/>
<line x1="123.63" y1="399.5" x2="123.63" y2="401.5" stroke="#1a1a1a" stroke-width="0.9"/>
<line x1="126.72" y1="399.5" x2="126.72" y2="401.5" stroke="#1a1a1a" stroke-width="0.9"/>
<line x1="129.13" y1="399.5" x2="129.13" y2="401.5" stroke="#1a1a1a" stroke-width="0.9"/>
<line x1="131.09" y1="399.5" x2="131.09" y2="401.5" stroke="#1a1a1a" stroke-width="0.9"/>
<line x1="132.75" y1="399.5" x2="132.75" y2="401.5" stroke="#1a1a1a" stroke-width="0.9"/>
<line x1="134.18" y1="399.5" x2="134.18" y2="401.5" stroke="#1a1a1a" stroke-width="0.9"/>
<line x1="135.45" y1="399.5" x2="135.45" y2="401.5" stroke="#1a1a1a" stroke-width="0.9"/>
<line x1="143.83" y1="399.5" x2="143.83" y2="401.5" stroke="#1a1a1a" stroke-width="0.9"/>
<line x1="40.6" y1="399.5" x2="40.6" y2="401.5" stroke="#1a1a1a" stroke-width="0.9"/>
<line x1="42.2" y1="399.5" x2="42.2" y2="401.5" stroke="#1a1a1a" stroke-width="0.9"/>
<line x1="43.8" y1="399.5" x2="43.8" y2="401.5" stroke="#1a1a1a" stroke-width="0.9"/>
<line x1="45.4" y1="399.5" x2="45.4" y2="401.5" stroke="#1a1a1a" stroke-width="0.9"/>
<line x1="47" y1="399.5" x2="47" y2="401.5" stroke="#1a1a1a" stroke-width="0.9"/>
<line x1="48.6" y1="399.5" x2="48.6" y2="401.5" stroke="#1a1a1a" stroke-width="0.9"/>
<line x1="51.8" y1="399.5" x2="51.8" y2="401.5" stroke="#1a1a1a" stroke-width="0.9"/>
<line x1="53.4" y1="399.5" x2="53.4" y2="401.5" stroke="#1a1a1a" stroke-width="0.9"/>
<line x1="55" y1="399.5" x2="55" y2="401.5" stroke="#1a1a1a" stroke-width="0.9"/>
<line x1="56.6" y1="399.5" x2="56.6" y2="401.5" stroke="#1a1a1a" stroke-width="0.9"/>
<line x1="58.2" y1="399.5" x2="58.2" y2="401.5" stroke="#1a1a1a" stroke-width="0.9"/>
<line x1="59.8" y1="399.5" x2="59.8" y2="401.5" stroke="#1a1a1a" stroke-width="0.9"/>
<text x="49.63" y="410.6" font-size="8.3" text-anchor="middle" fill="#333">0</text>
<text x="62.43" y="410.6" font-size="8.3" text-anchor="middle" fill="#333">10<tspan font-size="5.8" dy="-3.6">2</tspan></text>
<text x="87.21" y="410.6" font-size="8.3" text-anchor="middle" fill="#333">10<tspan font-size="5.8" dy="-3.6">3</tspan></text>
<text x="112.1" y="410.6" font-size="8.3" text-anchor="middle" fill="#333">10<tspan font-size="5.8" dy="-3.6">4</tspan></text>
<text x="136.67" y="410.6" font-size="8.3" text-anchor="middle" fill="#333">10<tspan font-size="5.8" dy="-3.6">5</tspan></text>
<text x="81.6" y="418.6" font-size="8.8" fill="#333" textLength="24.2" lengthAdjust="spacingAndGlyphs">Hoechst</text>
<text x="84.6" y="283.3" font-size="10.0" fill="#222" textLength="17.3" lengthAdjust="spacingAndGlyphs">CTL</text>
<line x1="283" y1="342.9" x2="336.8" y2="342.9" stroke="#222" stroke-width="1.2"/>
<line x1="283" y1="340.7" x2="283" y2="345.1" stroke="#222" stroke-width="1.2"/>
<line x1="336.8" y1="340.7" x2="336.8" y2="345.1" stroke="#222" stroke-width="1.2"/>
<polyline points="267.90,399.20 269.00,392.00 269.70,375.00 270.00,352.00 270.40,330.00 270.70,302.00 271.20,297.60 271.70,293.40 272.30,292.60 272.80,305.00 273.20,309.40 273.50,330.00 273.80,360.80 274.60,386.00 276.30,391.90 277.50,385.00 278.10,360.00 278.70,353.20 279.40,356.00 279.90,370.00 280.40,383.00 281.40,389.40 283.00,392.70 284.50,389.00 285.30,380.00 285.80,378.40 286.60,379.50 287.40,388.50 288.90,394.40 291.50,396.10 293.60,394.40 295.30,396.50 298.20,398.10 301.00,399.20" fill="none" stroke="#c8102e" stroke-width="1.35" stroke-linejoin="round"/>
<rect x="265" y="334" width="21.5" height="8" fill="#fff" />
<text x="265.4" y="340.5" font-size="7.6" fill="#333" textLength="20.6" lengthAdjust="spacingAndGlyphs">2N4N</text>
<text x="304.8" y="340.5" font-size="7.6" fill="#333" textLength="13.8" lengthAdjust="spacingAndGlyphs">≥8N</text>
<rect x="223.6" y="287.4" width="113.2" height="112.1" fill="none" stroke="#1a1a1a" stroke-width="1.2"/>
<line x1="220.4" y1="399.5" x2="223.6" y2="399.5" stroke="#1a1a1a" stroke-width="1.1"/>
<text x="217.9" y="402.16" font-size="7.5" text-anchor="end" fill="#333">0</text>
<line x1="220.4" y1="364.93" x2="223.6" y2="364.93" stroke="#1a1a1a" stroke-width="1.1"/>
<text x="217.9" y="367.59" font-size="7.5" text-anchor="end" fill="#333">100</text>
<line x1="220.4" y1="330.36" x2="223.6" y2="330.36" stroke="#1a1a1a" stroke-width="1.1"/>
<text x="217.9" y="333.02" font-size="7.5" text-anchor="end" fill="#333">200</text>
<line x1="220.4" y1="295.79" x2="223.6" y2="295.79" stroke="#1a1a1a" stroke-width="1.1"/>
<text x="217.9" y="298.45" font-size="7.5" text-anchor="end" fill="#333">300</text>
<line x1="221.6" y1="390.86" x2="223.6" y2="390.86" stroke="#1a1a1a" stroke-width="1.0"/>
<line x1="221.6" y1="382.21" x2="223.6" y2="382.21" stroke="#1a1a1a" stroke-width="1.0"/>
<line x1="221.6" y1="373.57" x2="223.6" y2="373.57" stroke="#1a1a1a" stroke-width="1.0"/>
<line x1="221.6" y1="356.29" x2="223.6" y2="356.29" stroke="#1a1a1a" stroke-width="1.0"/>
<line x1="221.6" y1="347.64" x2="223.6" y2="347.64" stroke="#1a1a1a" stroke-width="1.0"/>
<line x1="221.6" y1="339" x2="223.6" y2="339" stroke="#1a1a1a" stroke-width="1.0"/>
<line x1="221.6" y1="321.72" x2="223.6" y2="321.72" stroke="#1a1a1a" stroke-width="1.0"/>
<line x1="221.6" y1="313.07" x2="223.6" y2="313.07" stroke="#1a1a1a" stroke-width="1.0"/>
<line x1="221.6" y1="304.43" x2="223.6" y2="304.43" stroke="#1a1a1a" stroke-width="1.0"/>
<line x1="234.35" y1="399.5" x2="234.35" y2="402.5" stroke="#1a1a1a" stroke-width="1.1"/>
<line x1="247.37" y1="399.5" x2="247.37" y2="402.5" stroke="#1a1a1a" stroke-width="1.1"/>
<line x1="273.18" y1="399.5" x2="273.18" y2="402.5" stroke="#1a1a1a" stroke-width="1.1"/>
<line x1="299.1" y1="399.5" x2="299.1" y2="402.5" stroke="#1a1a1a" stroke-width="1.1"/>
<line x1="324.69" y1="399.5" x2="324.69" y2="402.5" stroke="#1a1a1a" stroke-width="1.1"/>
<line x1="255.14" y1="399.5" x2="255.14" y2="401.5" stroke="#1a1a1a" stroke-width="0.9"/>
<line x1="259.69" y1="399.5" x2="259.69" y2="401.5" stroke="#1a1a1a" stroke-width="0.9"/>
<line x1="262.91" y1="399.5" x2="262.91" y2="401.5" stroke="#1a1a1a" stroke-width="0.9"/>
<line x1="265.41" y1="399.5" x2="265.41" y2="401.5" stroke="#1a1a1a" stroke-width="0.9"/>
<line x1="267.46" y1="399.5" x2="267.46" y2="401.5" stroke="#1a1a1a" stroke-width="0.9"/>
<line x1="269.18" y1="399.5" x2="269.18" y2="401.5" stroke="#1a1a1a" stroke-width="0.9"/>
<line x1="270.68" y1="399.5" x2="270.68" y2="401.5" stroke="#1a1a1a" stroke-width="0.9"/>
<line x1="272" y1="399.5" x2="272" y2="401.5" stroke="#1a1a1a" stroke-width="0.9"/>
<line x1="280.95" y1="399.5" x2="280.95" y2="401.5" stroke="#1a1a1a" stroke-width="0.9"/>
<line x1="285.5" y1="399.5" x2="285.5" y2="401.5" stroke="#1a1a1a" stroke-width="0.9"/>
<line x1="288.72" y1="399.5" x2="288.72" y2="401.5" stroke="#1a1a1a" stroke-width="0.9"/>
<line x1="291.22" y1="399.5" x2="291.22" y2="401.5" stroke="#1a1a1a" stroke-width="0.9"/>
<line x1="293.27" y1="399.5" x2="293.27" y2="401.5" stroke="#1a1a1a" stroke-width="0.9"/>
<line x1="294.99" y1="399.5" x2="294.99" y2="401.5" stroke="#1a1a1a" stroke-width="0.9"/>
<line x1="296.49" y1="399.5" x2="296.49" y2="401.5" stroke="#1a1a1a" stroke-width="0.9"/>
<line x1="297.81" y1="399.5" x2="297.81" y2="401.5" stroke="#1a1a1a" stroke-width="0.9"/>
<line x1="306.87" y1="399.5" x2="306.87" y2="401.5" stroke="#1a1a1a" stroke-width="0.9"/>
<line x1="311.42" y1="399.5" x2="311.42" y2="401.5" stroke="#1a1a1a" stroke-width="0.9"/>
<line x1="314.64" y1="399.5" x2="314.64" y2="401.5" stroke="#1a1a1a" stroke-width="0.9"/>
<line x1="317.14" y1="399.5" x2="317.14" y2="401.5" stroke="#1a1a1a" stroke-width="0.9"/>
<line x1="319.19" y1="399.5" x2="319.19" y2="401.5" stroke="#1a1a1a" stroke-width="0.9"/>
<line x1="320.92" y1="399.5" x2="320.92" y2="401.5" stroke="#1a1a1a" stroke-width="0.9"/>
<line x1="322.41" y1="399.5" x2="322.41" y2="401.5" stroke="#1a1a1a" stroke-width="0.9"/>
<line x1="323.73" y1="399.5" x2="323.73" y2="401.5" stroke="#1a1a1a" stroke-width="0.9"/>
<line x1="332.46" y1="399.5" x2="332.46" y2="401.5" stroke="#1a1a1a" stroke-width="0.9"/>
<line x1="224.9" y1="399.5" x2="224.9" y2="401.5" stroke="#1a1a1a" stroke-width="0.9"/>
<line x1="226.5" y1="399.5" x2="226.5" y2="401.5" stroke="#1a1a1a" stroke-width="0.9"/>
<line x1="228.1" y1="399.5" x2="228.1" y2="401.5" stroke="#1a1a1a" stroke-width="0.9"/>
<line x1="229.7" y1="399.5" x2="229.7" y2="401.5" stroke="#1a1a1a" stroke-width="0.9"/>
<line x1="231.3" y1="399.5" x2="231.3" y2="401.5" stroke="#1a1a1a" stroke-width="0.9"/>
<line x1="232.9" y1="399.5" x2="232.9" y2="401.5" stroke="#1a1a1a" stroke-width="0.9"/>
<line x1="236.1" y1="399.5" x2="236.1" y2="401.5" stroke="#1a1a1a" stroke-width="0.9"/>
<line x1="237.7" y1="399.5" x2="237.7" y2="401.5" stroke="#1a1a1a" stroke-width="0.9"/>
<line x1="239.3" y1="399.5" x2="239.3" y2="401.5" stroke="#1a1a1a" stroke-width="0.9"/>
<line x1="240.9" y1="399.5" x2="240.9" y2="401.5" stroke="#1a1a1a" stroke-width="0.9"/>
<line x1="242.5" y1="399.5" x2="242.5" y2="401.5" stroke="#1a1a1a" stroke-width="0.9"/>
<line x1="244.1" y1="399.5" x2="244.1" y2="401.5" stroke="#1a1a1a" stroke-width="0.9"/>
<line x1="245.7" y1="399.5" x2="245.7" y2="401.5" stroke="#1a1a1a" stroke-width="0.9"/>
<text x="234.35" y="410.4" font-size="8.3" text-anchor="middle" fill="#333">0</text>
<text x="247.67" y="410.4" font-size="8.3" text-anchor="middle" fill="#333">10<tspan font-size="5.8" dy="-3.6">2</tspan></text>
<text x="273.48" y="410.4" font-size="8.3" text-anchor="middle" fill="#333">10<tspan font-size="5.8" dy="-3.6">3</tspan></text>
<text x="299.4" y="410.4" font-size="8.3" text-anchor="middle" fill="#333">10<tspan font-size="5.8" dy="-3.6">4</tspan></text>
<text x="324.99" y="410.4" font-size="8.3" text-anchor="middle" fill="#333">10<tspan font-size="5.8" dy="-3.6">5</tspan></text>
<text x="268.5" y="418.6" font-size="8.8" fill="#333" textLength="24.3" lengthAdjust="spacingAndGlyphs">Hoechst</text>
<text x="271.4" y="283.3" font-size="10.0" fill="#222" textLength="17.2" lengthAdjust="spacingAndGlyphs">CTL</text>
<line x1="423.3" y1="283.2" x2="423.3" y2="371.75" stroke="#231f20" stroke-width="1.3"/>
<line x1="419.9" y1="371.1" x2="423.3" y2="371.1" stroke="#231f20" stroke-width="1.1"/>
<text x="417.6" y="373" font-size="7.6" text-anchor="end" fill="#333" textLength="11.62" lengthAdjust="spacingAndGlyphs">0.8</text>
<line x1="419.9" y1="356.55" x2="423.3" y2="356.55" stroke="#231f20" stroke-width="1.1"/>
<text x="417.6" y="358.45" font-size="7.6" text-anchor="end" fill="#333" textLength="11.62" lengthAdjust="spacingAndGlyphs">1.0</text>
<line x1="419.9" y1="342" x2="423.3" y2="342" stroke="#231f20" stroke-width="1.1"/>
<text x="417.6" y="343.9" font-size="7.6" text-anchor="end" fill="#333" textLength="11.62" lengthAdjust="spacingAndGlyphs">1.2</text>
<line x1="419.9" y1="327.45" x2="423.3" y2="327.45" stroke="#231f20" stroke-width="1.1"/>
<text x="417.6" y="329.35" font-size="7.6" text-anchor="end" fill="#333" textLength="11.62" lengthAdjust="spacingAndGlyphs">1.4</text>
<line x1="419.9" y1="312.9" x2="423.3" y2="312.9" stroke="#231f20" stroke-width="1.1"/>
<text x="417.6" y="314.8" font-size="7.6" text-anchor="end" fill="#333" textLength="11.62" lengthAdjust="spacingAndGlyphs">1.6</text>
<line x1="419.9" y1="298.35" x2="423.3" y2="298.35" stroke="#231f20" stroke-width="1.1"/>
<text x="417.6" y="300.25" font-size="7.6" text-anchor="end" fill="#333" textLength="11.62" lengthAdjust="spacingAndGlyphs">1.8</text>
<line x1="419.9" y1="283.8" x2="423.3" y2="283.8" stroke="#231f20" stroke-width="1.1"/>
<text x="417.6" y="285.7" font-size="7.6" text-anchor="end" fill="#333" textLength="11.62" lengthAdjust="spacingAndGlyphs">2.0</text>
<line x1="422.65" y1="371.1" x2="481.1" y2="371.1" stroke="#231f20" stroke-width="1.3"/>
<line x1="437.2" y1="371.1" x2="437.2" y2="374.1" stroke="#231f20" stroke-width="1.1"/>
<line x1="466.7" y1="371.1" x2="466.7" y2="374.1" stroke="#231f20" stroke-width="1.1"/>
<text transform="translate(391.6,370.4) rotate(-90)" x="0" y="0" font-size="8.3" fill="#231f20" stroke="#231f20" stroke-width="0.18" textLength="56.6" lengthAdjust="spacingAndGlyphs">Relative % of CD41</text>
<text transform="translate(391.6,309.7) rotate(-90)" x="0" y="0" font-size="8.3" fill="#231f20" stroke="#231f20" stroke-width="0.18" textLength="18.2" lengthAdjust="spacingAndGlyphs">CD42</text>
<line x1="384.1" y1="311.3" x2="386.7" y2="311.3" stroke="#231f20" stroke-width="0.85"/>
<line x1="385.4" y1="310" x2="385.4" y2="312.6" stroke="#231f20" stroke-width="0.85"/>
<line x1="384.1" y1="289.3" x2="386.7" y2="289.3" stroke="#231f20" stroke-width="0.85"/>
<line x1="385.4" y1="288" x2="385.4" y2="290.6" stroke="#231f20" stroke-width="0.85"/>
<text transform="translate(403.2,340.3) rotate(-90)" x="0" y="0" font-size="8.6" fill="#231f20" stroke="#231f20" stroke-width="0.18" textLength="23.4" lengthAdjust="spacingAndGlyphs">2N cells</text>
<text transform="translate(441.6,379.4) rotate(-45)" x="0" y="0" font-size="7.8" text-anchor="end" fill="#231f20">CTL shCTL</text>
<text transform="translate(470.6,379.1) rotate(-45)" x="0" y="0" font-size="7.8" text-anchor="end" fill="#231f20">GSK343 shCTL</text>
<line x1="427.6" y1="356.9" x2="447.4" y2="356.9" stroke="#7a7a7a" stroke-width="1.5"/>
<circle cx="431.6" cy="356.9" r="1.35" fill="#13508f"/>
<circle cx="435.5" cy="356.9" r="1.35" fill="#13508f"/>
<circle cx="439.6" cy="356.9" r="1.35" fill="#13508f"/>
<circle cx="443.5" cy="356.9" r="1.35" fill="#13508f"/>
<line x1="466.7" y1="301.4" x2="466.7" y2="316" stroke="#c8102e" stroke-width="1.1"/>
<line x1="462.4" y1="301.4" x2="471.4" y2="301.4" stroke="#c8102e" stroke-width="1.1"/>
<line x1="462.4" y1="316" x2="471.4" y2="316" stroke="#c8102e" stroke-width="1.1"/>
<line x1="457.2" y1="308.7" x2="476.2" y2="308.7" stroke="#444" stroke-width="1.3"/>
<circle cx="462.5" cy="302" r="1.4" fill="#c8102e"/>
<circle cx="466.7" cy="302.8" r="1.4" fill="#c8102e"/>
<circle cx="470.8" cy="300.8" r="1.4" fill="#c8102e"/>
<circle cx="466.7" cy="329.9" r="1.4" fill="#c8102e"/>
<text x="377.6" y="432.4" font-size="9.3" fill="#222" textLength="34.8" lengthAdjust="spacingAndGlyphs">GSK343</text>
<line x1="323.4" y1="489.6" x2="383.5" y2="489.6" stroke="#222" stroke-width="1.2"/>
<line x1="323.4" y1="487.4" x2="323.4" y2="491.8" stroke="#222" stroke-width="1.2"/>
<line x1="331.5" y1="487.4" x2="331.5" y2="491.8" stroke="#222" stroke-width="1.2"/>
<line x1="337.7" y1="487.4" x2="337.7" y2="491.8" stroke="#222" stroke-width="1.2"/>
<polyline points="324.30,538.20 325.30,534.00 325.90,520.00 326.30,500.00 326.70,475.00 327.10,450.00 327.60,444.30 328.10,446.00 328.40,461.60 328.80,463.00 329.00,490.00 329.30,508.00 329.80,522.00 330.70,532.00 331.70,528.00 332.50,515.00 333.20,503.00 333.80,500.40 334.30,502.50 334.80,503.50 335.30,512.00 335.90,526.00 337.40,533.50 338.60,530.50 339.60,525.50 340.30,524.20 341.00,526.00 341.80,532.00 342.60,535.00 344.20,534.60 346.00,533.40 347.40,535.20 349.00,537.50 350.80,538.20" fill="none" stroke="#c8102e" stroke-width="1.35" stroke-linejoin="round"/>
<rect x="322" y="480" width="19" height="7.5" fill="#fff" />
<text x="322.2" y="486.3" font-size="6.8" fill="#333" textLength="17.8" lengthAdjust="spacingAndGlyphs">2N4N</text>
<text x="355" y="486.3" font-size="6.8" fill="#333" textLength="12.7" lengthAdjust="spacingAndGlyphs">≥8N</text>
<rect x="286.2" y="440" width="97.3" height="98.2" fill="none" stroke="#1a1a1a" stroke-width="1.2"/>
<line x1="283" y1="538.2" x2="286.2" y2="538.2" stroke="#1a1a1a" stroke-width="1.1"/>
<text x="280.5" y="540.79" font-size="7.3" text-anchor="end" fill="#333">0</text>
<line x1="283" y1="515.52" x2="286.2" y2="515.52" stroke="#1a1a1a" stroke-width="1.1"/>
<text x="280.5" y="518.11" font-size="7.3" text-anchor="end" fill="#333">30</text>
<line x1="283" y1="492.84" x2="286.2" y2="492.84" stroke="#1a1a1a" stroke-width="1.1"/>
<text x="280.5" y="495.43" font-size="7.3" text-anchor="end" fill="#333">60</text>
<line x1="283" y1="470.16" x2="286.2" y2="470.16" stroke="#1a1a1a" stroke-width="1.1"/>
<text x="280.5" y="472.75" font-size="7.3" text-anchor="end" fill="#333">90</text>
<line x1="283" y1="447.48" x2="286.2" y2="447.48" stroke="#1a1a1a" stroke-width="1.1"/>
<text x="280.5" y="450.07" font-size="7.3" text-anchor="end" fill="#333">120</text>
<line x1="284.2" y1="530.64" x2="286.2" y2="530.64" stroke="#1a1a1a" stroke-width="1.0"/>
<line x1="284.2" y1="523.08" x2="286.2" y2="523.08" stroke="#1a1a1a" stroke-width="1.0"/>
<line x1="284.2" y1="507.96" x2="286.2" y2="507.96" stroke="#1a1a1a" stroke-width="1.0"/>
<line x1="284.2" y1="500.4" x2="286.2" y2="500.4" stroke="#1a1a1a" stroke-width="1.0"/>
<line x1="284.2" y1="485.28" x2="286.2" y2="485.28" stroke="#1a1a1a" stroke-width="1.0"/>
<line x1="284.2" y1="477.72" x2="286.2" y2="477.72" stroke="#1a1a1a" stroke-width="1.0"/>
<line x1="284.2" y1="462.6" x2="286.2" y2="462.6" stroke="#1a1a1a" stroke-width="1.0"/>
<line x1="284.2" y1="455.04" x2="286.2" y2="455.04" stroke="#1a1a1a" stroke-width="1.0"/>
<line x1="295.44" y1="538.2" x2="295.44" y2="541.2" stroke="#1a1a1a" stroke-width="1.1"/>
<line x1="306.63" y1="538.2" x2="306.63" y2="541.2" stroke="#1a1a1a" stroke-width="1.1"/>
<line x1="328.82" y1="538.2" x2="328.82" y2="541.2" stroke="#1a1a1a" stroke-width="1.1"/>
<line x1="351.1" y1="538.2" x2="351.1" y2="541.2" stroke="#1a1a1a" stroke-width="1.1"/>
<line x1="373.09" y1="538.2" x2="373.09" y2="541.2" stroke="#1a1a1a" stroke-width="1.1"/>
<line x1="313.31" y1="538.2" x2="313.31" y2="540.2" stroke="#1a1a1a" stroke-width="0.9"/>
<line x1="317.22" y1="538.2" x2="317.22" y2="540.2" stroke="#1a1a1a" stroke-width="0.9"/>
<line x1="319.99" y1="538.2" x2="319.99" y2="540.2" stroke="#1a1a1a" stroke-width="0.9"/>
<line x1="322.14" y1="538.2" x2="322.14" y2="540.2" stroke="#1a1a1a" stroke-width="0.9"/>
<line x1="323.9" y1="538.2" x2="323.9" y2="540.2" stroke="#1a1a1a" stroke-width="0.9"/>
<line x1="325.38" y1="538.2" x2="325.38" y2="540.2" stroke="#1a1a1a" stroke-width="0.9"/>
<line x1="326.67" y1="538.2" x2="326.67" y2="540.2" stroke="#1a1a1a" stroke-width="0.9"/>
<line x1="327.8" y1="538.2" x2="327.8" y2="540.2" stroke="#1a1a1a" stroke-width="0.9"/>
<line x1="335.5" y1="538.2" x2="335.5" y2="540.2" stroke="#1a1a1a" stroke-width="0.9"/>
<line x1="339.4" y1="538.2" x2="339.4" y2="540.2" stroke="#1a1a1a" stroke-width="0.9"/>
<line x1="342.17" y1="538.2" x2="342.17" y2="540.2" stroke="#1a1a1a" stroke-width="0.9"/>
<line x1="344.32" y1="538.2" x2="344.32" y2="540.2" stroke="#1a1a1a" stroke-width="0.9"/>
<line x1="346.08" y1="538.2" x2="346.08" y2="540.2" stroke="#1a1a1a" stroke-width="0.9"/>
<line x1="347.57" y1="538.2" x2="347.57" y2="540.2" stroke="#1a1a1a" stroke-width="0.9"/>
<line x1="348.85" y1="538.2" x2="348.85" y2="540.2" stroke="#1a1a1a" stroke-width="0.9"/>
<line x1="349.99" y1="538.2" x2="349.99" y2="540.2" stroke="#1a1a1a" stroke-width="0.9"/>
<line x1="357.78" y1="538.2" x2="357.78" y2="540.2" stroke="#1a1a1a" stroke-width="0.9"/>
<line x1="361.68" y1="538.2" x2="361.68" y2="540.2" stroke="#1a1a1a" stroke-width="0.9"/>
<line x1="364.46" y1="538.2" x2="364.46" y2="540.2" stroke="#1a1a1a" stroke-width="0.9"/>
<line x1="366.61" y1="538.2" x2="366.61" y2="540.2" stroke="#1a1a1a" stroke-width="0.9"/>
<line x1="368.36" y1="538.2" x2="368.36" y2="540.2" stroke="#1a1a1a" stroke-width="0.9"/>
<line x1="369.85" y1="538.2" x2="369.85" y2="540.2" stroke="#1a1a1a" stroke-width="0.9"/>
<line x1="371.13" y1="538.2" x2="371.13" y2="540.2" stroke="#1a1a1a" stroke-width="0.9"/>
<line x1="372.27" y1="538.2" x2="372.27" y2="540.2" stroke="#1a1a1a" stroke-width="0.9"/>
<line x1="379.77" y1="538.2" x2="379.77" y2="540.2" stroke="#1a1a1a" stroke-width="0.9"/>
<line x1="287.5" y1="538.2" x2="287.5" y2="540.2" stroke="#1a1a1a" stroke-width="0.9"/>
<line x1="289.1" y1="538.2" x2="289.1" y2="540.2" stroke="#1a1a1a" stroke-width="0.9"/>
<line x1="290.7" y1="538.2" x2="290.7" y2="540.2" stroke="#1a1a1a" stroke-width="0.9"/>
<line x1="292.3" y1="538.2" x2="292.3" y2="540.2" stroke="#1a1a1a" stroke-width="0.9"/>
<line x1="293.9" y1="538.2" x2="293.9" y2="540.2" stroke="#1a1a1a" stroke-width="0.9"/>
<line x1="297.1" y1="538.2" x2="297.1" y2="540.2" stroke="#1a1a1a" stroke-width="0.9"/>
<line x1="298.7" y1="538.2" x2="298.7" y2="540.2" stroke="#1a1a1a" stroke-width="0.9"/>
<line x1="300.3" y1="538.2" x2="300.3" y2="540.2" stroke="#1a1a1a" stroke-width="0.9"/>
<line x1="301.9" y1="538.2" x2="301.9" y2="540.2" stroke="#1a1a1a" stroke-width="0.9"/>
<line x1="303.5" y1="538.2" x2="303.5" y2="540.2" stroke="#1a1a1a" stroke-width="0.9"/>
<line x1="305.1" y1="538.2" x2="305.1" y2="540.2" stroke="#1a1a1a" stroke-width="0.9"/>
<text x="295.44" y="548.6" font-size="6.4" text-anchor="middle" fill="#333">0</text>
<text x="306.93" y="548.6" font-size="6.4" text-anchor="middle" fill="#333">10<tspan font-size="4.6" dy="-2.8">2</tspan></text>
<text x="329.12" y="548.6" font-size="6.4" text-anchor="middle" fill="#333">10<tspan font-size="4.6" dy="-2.8">3</tspan></text>
<text x="351.4" y="548.6" font-size="6.4" text-anchor="middle" fill="#333">10<tspan font-size="4.6" dy="-2.8">4</tspan></text>
<text x="373.39" y="548.6" font-size="6.4" text-anchor="middle" fill="#333">10<tspan font-size="4.6" dy="-2.8">5</tspan></text>
<text x="323.7" y="557.6" font-size="7.8" fill="#333" textLength="22.6" lengthAdjust="spacingAndGlyphs">Hoechst</text>
<text x="294.4" y="452.7" font-size="7.6" fill="#222" textLength="23.4" lengthAdjust="spacingAndGlyphs">shCTL</text>
<line x1="449.9" y1="489.6" x2="511" y2="489.6" stroke="#222" stroke-width="1.2"/>
<line x1="449.9" y1="487.4" x2="449.9" y2="491.8" stroke="#222" stroke-width="1.2"/>
<line x1="457.8" y1="487.4" x2="457.8" y2="491.8" stroke="#222" stroke-width="1.2"/>
<line x1="464.7" y1="487.4" x2="464.7" y2="491.8" stroke="#222" stroke-width="1.2"/>
<polyline points="451.10,539.30 452.30,534.00 452.90,515.00 453.20,495.00 453.50,478.00 454.20,474.00 454.50,460.00 454.70,445.00 455.10,443.70 455.60,446.00 455.90,470.00 456.60,476.00 456.80,490.00 457.10,505.00 457.50,520.00 458.50,530.20 459.50,525.00 460.10,510.00 460.70,500.10 461.30,502.00 461.90,515.00 462.40,528.00 463.30,533.10 464.50,531.00 465.60,522.00 466.60,510.00 467.30,507.40 468.00,509.00 468.60,516.00 469.40,524.00 470.40,530.00 471.70,533.80 472.90,531.00 473.90,528.70 474.90,530.00 476.00,534.50 477.40,537.50 479.50,539.00 481.00,539.30" fill="none" stroke="#c8102e" stroke-width="1.35" stroke-linejoin="round"/>
<rect x="446.5" y="480" width="19" height="7.5" fill="#fff" />
<text x="446.9" y="486.3" font-size="6.8" fill="#333" textLength="17.8" lengthAdjust="spacingAndGlyphs">2N4N</text>
<text x="480.9" y="486.3" font-size="6.8" fill="#333" textLength="12.9" lengthAdjust="spacingAndGlyphs">≥8N</text>
<rect x="413" y="439.6" width="98" height="99.6" fill="none" stroke="#1a1a1a" stroke-width="1.2"/>
<line x1="409.8" y1="539.2" x2="413" y2="539.2" stroke="#1a1a1a" stroke-width="1.1"/>
<text x="407.3" y="541.79" font-size="7.3" text-anchor="end" fill="#333">0</text>
<line x1="409.8" y1="518.02" x2="413" y2="518.02" stroke="#1a1a1a" stroke-width="1.1"/>
<text x="407.3" y="520.61" font-size="7.3" text-anchor="end" fill="#333">30</text>
<line x1="409.8" y1="496.84" x2="413" y2="496.84" stroke="#1a1a1a" stroke-width="1.1"/>
<text x="407.3" y="499.43" font-size="7.3" text-anchor="end" fill="#333">60</text>
<line x1="409.8" y1="475.66" x2="413" y2="475.66" stroke="#1a1a1a" stroke-width="1.1"/>
<text x="407.3" y="478.25" font-size="7.3" text-anchor="end" fill="#333">90</text>
<line x1="409.8" y1="454.48" x2="413" y2="454.48" stroke="#1a1a1a" stroke-width="1.1"/>
<text x="407.3" y="457.07" font-size="7.3" text-anchor="end" fill="#333">120</text>
<line x1="411" y1="532.14" x2="413" y2="532.14" stroke="#1a1a1a" stroke-width="1.0"/>
<line x1="411" y1="525.08" x2="413" y2="525.08" stroke="#1a1a1a" stroke-width="1.0"/>
<line x1="411" y1="510.96" x2="413" y2="510.96" stroke="#1a1a1a" stroke-width="1.0"/>
<line x1="411" y1="503.9" x2="413" y2="503.9" stroke="#1a1a1a" stroke-width="1.0"/>
<line x1="411" y1="489.78" x2="413" y2="489.78" stroke="#1a1a1a" stroke-width="1.0"/>
<line x1="411" y1="482.72" x2="413" y2="482.72" stroke="#1a1a1a" stroke-width="1.0"/>
<line x1="411" y1="468.6" x2="413" y2="468.6" stroke="#1a1a1a" stroke-width="1.0"/>
<line x1="411" y1="461.54" x2="413" y2="461.54" stroke="#1a1a1a" stroke-width="1.0"/>
<line x1="411" y1="447.42" x2="413" y2="447.42" stroke="#1a1a1a" stroke-width="1.0"/>
<line x1="422.31" y1="539.2" x2="422.31" y2="542.2" stroke="#1a1a1a" stroke-width="1.1"/>
<line x1="433.58" y1="539.2" x2="433.58" y2="542.2" stroke="#1a1a1a" stroke-width="1.1"/>
<line x1="455.92" y1="539.2" x2="455.92" y2="542.2" stroke="#1a1a1a" stroke-width="1.1"/>
<line x1="478.37" y1="539.2" x2="478.37" y2="542.2" stroke="#1a1a1a" stroke-width="1.1"/>
<line x1="500.51" y1="539.2" x2="500.51" y2="542.2" stroke="#1a1a1a" stroke-width="1.1"/>
<line x1="440.31" y1="539.2" x2="440.31" y2="541.2" stroke="#1a1a1a" stroke-width="0.9"/>
<line x1="444.24" y1="539.2" x2="444.24" y2="541.2" stroke="#1a1a1a" stroke-width="0.9"/>
<line x1="447.03" y1="539.2" x2="447.03" y2="541.2" stroke="#1a1a1a" stroke-width="0.9"/>
<line x1="449.2" y1="539.2" x2="449.2" y2="541.2" stroke="#1a1a1a" stroke-width="0.9"/>
<line x1="450.97" y1="539.2" x2="450.97" y2="541.2" stroke="#1a1a1a" stroke-width="0.9"/>
<line x1="452.46" y1="539.2" x2="452.46" y2="541.2" stroke="#1a1a1a" stroke-width="0.9"/>
<line x1="453.76" y1="539.2" x2="453.76" y2="541.2" stroke="#1a1a1a" stroke-width="0.9"/>
<line x1="454.9" y1="539.2" x2="454.9" y2="541.2" stroke="#1a1a1a" stroke-width="0.9"/>
<line x1="462.65" y1="539.2" x2="462.65" y2="541.2" stroke="#1a1a1a" stroke-width="0.9"/>
<line x1="466.58" y1="539.2" x2="466.58" y2="541.2" stroke="#1a1a1a" stroke-width="0.9"/>
<line x1="469.38" y1="539.2" x2="469.38" y2="541.2" stroke="#1a1a1a" stroke-width="0.9"/>
<line x1="471.54" y1="539.2" x2="471.54" y2="541.2" stroke="#1a1a1a" stroke-width="0.9"/>
<line x1="473.31" y1="539.2" x2="473.31" y2="541.2" stroke="#1a1a1a" stroke-width="0.9"/>
<line x1="474.81" y1="539.2" x2="474.81" y2="541.2" stroke="#1a1a1a" stroke-width="0.9"/>
<line x1="476.1" y1="539.2" x2="476.1" y2="541.2" stroke="#1a1a1a" stroke-width="0.9"/>
<line x1="477.25" y1="539.2" x2="477.25" y2="541.2" stroke="#1a1a1a" stroke-width="0.9"/>
<line x1="485.09" y1="539.2" x2="485.09" y2="541.2" stroke="#1a1a1a" stroke-width="0.9"/>
<line x1="489.03" y1="539.2" x2="489.03" y2="541.2" stroke="#1a1a1a" stroke-width="0.9"/>
<line x1="491.82" y1="539.2" x2="491.82" y2="541.2" stroke="#1a1a1a" stroke-width="0.9"/>
<line x1="493.98" y1="539.2" x2="493.98" y2="541.2" stroke="#1a1a1a" stroke-width="0.9"/>
<line x1="495.75" y1="539.2" x2="495.75" y2="541.2" stroke="#1a1a1a" stroke-width="0.9"/>
<line x1="497.25" y1="539.2" x2="497.25" y2="541.2" stroke="#1a1a1a" stroke-width="0.9"/>
<line x1="498.54" y1="539.2" x2="498.54" y2="541.2" stroke="#1a1a1a" stroke-width="0.9"/>
<line x1="499.69" y1="539.2" x2="499.69" y2="541.2" stroke="#1a1a1a" stroke-width="0.9"/>
<line x1="507.24" y1="539.2" x2="507.24" y2="541.2" stroke="#1a1a1a" stroke-width="0.9"/>
<line x1="414.3" y1="539.2" x2="414.3" y2="541.2" stroke="#1a1a1a" stroke-width="0.9"/>
<line x1="415.9" y1="539.2" x2="415.9" y2="541.2" stroke="#1a1a1a" stroke-width="0.9"/>
<line x1="417.5" y1="539.2" x2="417.5" y2="541.2" stroke="#1a1a1a" stroke-width="0.9"/>
<line x1="419.1" y1="539.2" x2="419.1" y2="541.2" stroke="#1a1a1a" stroke-width="0.9"/>
<line x1="420.7" y1="539.2" x2="420.7" y2="541.2" stroke="#1a1a1a" stroke-width="0.9"/>
<line x1="423.9" y1="539.2" x2="423.9" y2="541.2" stroke="#1a1a1a" stroke-width="0.9"/>
<line x1="425.5" y1="539.2" x2="425.5" y2="541.2" stroke="#1a1a1a" stroke-width="0.9"/>
<line x1="427.1" y1="539.2" x2="427.1" y2="541.2" stroke="#1a1a1a" stroke-width="0.9"/>
<line x1="428.7" y1="539.2" x2="428.7" y2="541.2" stroke="#1a1a1a" stroke-width="0.9"/>
<line x1="430.3" y1="539.2" x2="430.3" y2="541.2" stroke="#1a1a1a" stroke-width="0.9"/>
<line x1="431.9" y1="539.2" x2="431.9" y2="541.2" stroke="#1a1a1a" stroke-width="0.9"/>
<text x="422.31" y="549.7" font-size="6.4" text-anchor="middle" fill="#333">0</text>
<text x="433.88" y="549.7" font-size="6.4" text-anchor="middle" fill="#333">10<tspan font-size="4.6" dy="-2.8">2</tspan></text>
<text x="456.22" y="549.7" font-size="6.4" text-anchor="middle" fill="#333">10<tspan font-size="4.6" dy="-2.8">3</tspan></text>
<text x="478.67" y="549.7" font-size="6.4" text-anchor="middle" fill="#333">10<tspan font-size="4.6" dy="-2.8">4</tspan></text>
<text x="500.81" y="549.7" font-size="6.4" text-anchor="middle" fill="#333">10<tspan font-size="4.6" dy="-2.8">5</tspan></text>
<text x="451.2" y="558.9" font-size="7.8" fill="#333" textLength="23" lengthAdjust="spacingAndGlyphs">Hoechst</text>
<text x="421" y="450.8" font-size="7.6" fill="#222" textLength="23.2" lengthAdjust="spacingAndGlyphs">shp19</text>
<line x1="323.2" y1="621.5" x2="382.7" y2="621.5" stroke="#222" stroke-width="1.2"/>
<line x1="323.2" y1="619.3" x2="323.2" y2="623.7" stroke="#222" stroke-width="1.2"/>
<line x1="327.3" y1="619.3" x2="327.3" y2="623.7" stroke="#222" stroke-width="1.2"/>
<line x1="332" y1="619.3" x2="332" y2="623.7" stroke="#222" stroke-width="1.2"/>
<line x1="337.7" y1="619.3" x2="337.7" y2="623.7" stroke="#222" stroke-width="1.2"/>
<polyline points="324.50,669.20 325.60,664.00 326.20,650.00 326.60,630.00 327.00,612.00 327.40,590.00 327.90,578.00 328.40,576.30 328.90,579.00 329.10,600.00 329.30,615.00 329.60,628.00 330.30,645.00 331.20,657.00 332.10,662.60 333.00,655.00 333.70,640.00 334.30,627.40 334.90,628.50 335.40,630.50 335.80,642.00 336.20,655.00 336.70,663.00 337.80,660.00 338.80,650.00 339.60,638.00 340.20,632.40 340.80,633.00 341.30,635.50 341.90,641.00 342.60,648.00 343.90,658.30 345.60,660.50 347.50,662.00 349.00,663.80 350.40,665.50 352.50,667.60 355.40,669.20" fill="none" stroke="#c8102e" stroke-width="1.35" stroke-linejoin="round"/>
<rect x="322" y="612" width="18" height="7.5" fill="#fff" />
<text x="322.2" y="618.5" font-size="6.8" fill="#333" textLength="17.1" lengthAdjust="spacingAndGlyphs">2N4N</text>
<text x="355" y="618.5" font-size="6.8" fill="#333" textLength="12.7" lengthAdjust="spacingAndGlyphs">≥8N</text>
<rect x="286.9" y="572.4" width="95.8" height="96.8" fill="none" stroke="#1a1a1a" stroke-width="1.2"/>
<line x1="283.7" y1="669.2" x2="286.9" y2="669.2" stroke="#1a1a1a" stroke-width="1.1"/>
<text x="281.2" y="671.79" font-size="7.3" text-anchor="end" fill="#333">0</text>
<line x1="283.7" y1="639.6" x2="286.9" y2="639.6" stroke="#1a1a1a" stroke-width="1.1"/>
<text x="281.2" y="642.19" font-size="7.3" text-anchor="end" fill="#333">20</text>
<line x1="283.7" y1="610" x2="286.9" y2="610" stroke="#1a1a1a" stroke-width="1.1"/>
<text x="281.2" y="612.59" font-size="7.3" text-anchor="end" fill="#333">40</text>
<line x1="283.7" y1="580.4" x2="286.9" y2="580.4" stroke="#1a1a1a" stroke-width="1.1"/>
<text x="281.2" y="582.99" font-size="7.3" text-anchor="end" fill="#333">60</text>
<line x1="284.9" y1="661.8" x2="286.9" y2="661.8" stroke="#1a1a1a" stroke-width="1.0"/>
<line x1="284.9" y1="654.4" x2="286.9" y2="654.4" stroke="#1a1a1a" stroke-width="1.0"/>
<line x1="284.9" y1="647" x2="286.9" y2="647" stroke="#1a1a1a" stroke-width="1.0"/>
<line x1="284.9" y1="632.2" x2="286.9" y2="632.2" stroke="#1a1a1a" stroke-width="1.0"/>
<line x1="284.9" y1="624.8" x2="286.9" y2="624.8" stroke="#1a1a1a" stroke-width="1.0"/>
<line x1="284.9" y1="617.4" x2="286.9" y2="617.4" stroke="#1a1a1a" stroke-width="1.0"/>
<line x1="284.9" y1="602.6" x2="286.9" y2="602.6" stroke="#1a1a1a" stroke-width="1.0"/>
<line x1="284.9" y1="595.2" x2="286.9" y2="595.2" stroke="#1a1a1a" stroke-width="1.0"/>
<line x1="284.9" y1="587.8" x2="286.9" y2="587.8" stroke="#1a1a1a" stroke-width="1.0"/>
<line x1="296" y1="669.2" x2="296" y2="672.2" stroke="#1a1a1a" stroke-width="1.1"/>
<line x1="307.02" y1="669.2" x2="307.02" y2="672.2" stroke="#1a1a1a" stroke-width="1.1"/>
<line x1="328.86" y1="669.2" x2="328.86" y2="672.2" stroke="#1a1a1a" stroke-width="1.1"/>
<line x1="350.8" y1="669.2" x2="350.8" y2="672.2" stroke="#1a1a1a" stroke-width="1.1"/>
<line x1="372.45" y1="669.2" x2="372.45" y2="672.2" stroke="#1a1a1a" stroke-width="1.1"/>
<line x1="313.59" y1="669.2" x2="313.59" y2="671.2" stroke="#1a1a1a" stroke-width="0.9"/>
<line x1="317.44" y1="669.2" x2="317.44" y2="671.2" stroke="#1a1a1a" stroke-width="0.9"/>
<line x1="320.17" y1="669.2" x2="320.17" y2="671.2" stroke="#1a1a1a" stroke-width="0.9"/>
<line x1="322.29" y1="669.2" x2="322.29" y2="671.2" stroke="#1a1a1a" stroke-width="0.9"/>
<line x1="324.01" y1="669.2" x2="324.01" y2="671.2" stroke="#1a1a1a" stroke-width="0.9"/>
<line x1="325.48" y1="669.2" x2="325.48" y2="671.2" stroke="#1a1a1a" stroke-width="0.9"/>
<line x1="326.74" y1="669.2" x2="326.74" y2="671.2" stroke="#1a1a1a" stroke-width="0.9"/>
<line x1="327.86" y1="669.2" x2="327.86" y2="671.2" stroke="#1a1a1a" stroke-width="0.9"/>
<line x1="335.44" y1="669.2" x2="335.44" y2="671.2" stroke="#1a1a1a" stroke-width="0.9"/>
<line x1="339.28" y1="669.2" x2="339.28" y2="671.2" stroke="#1a1a1a" stroke-width="0.9"/>
<line x1="342.01" y1="669.2" x2="342.01" y2="671.2" stroke="#1a1a1a" stroke-width="0.9"/>
<line x1="344.13" y1="669.2" x2="344.13" y2="671.2" stroke="#1a1a1a" stroke-width="0.9"/>
<line x1="345.86" y1="669.2" x2="345.86" y2="671.2" stroke="#1a1a1a" stroke-width="0.9"/>
<line x1="347.32" y1="669.2" x2="347.32" y2="671.2" stroke="#1a1a1a" stroke-width="0.9"/>
<line x1="348.59" y1="669.2" x2="348.59" y2="671.2" stroke="#1a1a1a" stroke-width="0.9"/>
<line x1="349.7" y1="669.2" x2="349.7" y2="671.2" stroke="#1a1a1a" stroke-width="0.9"/>
<line x1="357.37" y1="669.2" x2="357.37" y2="671.2" stroke="#1a1a1a" stroke-width="0.9"/>
<line x1="361.22" y1="669.2" x2="361.22" y2="671.2" stroke="#1a1a1a" stroke-width="0.9"/>
<line x1="363.95" y1="669.2" x2="363.95" y2="671.2" stroke="#1a1a1a" stroke-width="0.9"/>
<line x1="366.07" y1="669.2" x2="366.07" y2="671.2" stroke="#1a1a1a" stroke-width="0.9"/>
<line x1="367.8" y1="669.2" x2="367.8" y2="671.2" stroke="#1a1a1a" stroke-width="0.9"/>
<line x1="369.26" y1="669.2" x2="369.26" y2="671.2" stroke="#1a1a1a" stroke-width="0.9"/>
<line x1="370.52" y1="669.2" x2="370.52" y2="671.2" stroke="#1a1a1a" stroke-width="0.9"/>
<line x1="371.64" y1="669.2" x2="371.64" y2="671.2" stroke="#1a1a1a" stroke-width="0.9"/>
<line x1="379.02" y1="669.2" x2="379.02" y2="671.2" stroke="#1a1a1a" stroke-width="0.9"/>
<line x1="288.2" y1="669.2" x2="288.2" y2="671.2" stroke="#1a1a1a" stroke-width="0.9"/>
<line x1="289.8" y1="669.2" x2="289.8" y2="671.2" stroke="#1a1a1a" stroke-width="0.9"/>
<line x1="291.4" y1="669.2" x2="291.4" y2="671.2" stroke="#1a1a1a" stroke-width="0.9"/>
<line x1="293" y1="669.2" x2="293" y2="671.2" stroke="#1a1a1a" stroke-width="0.9"/>
<line x1="294.6" y1="669.2" x2="294.6" y2="671.2" stroke="#1a1a1a" stroke-width="0.9"/>
<line x1="297.8" y1="669.2" x2="297.8" y2="671.2" stroke="#1a1a1a" stroke-width="0.9"/>
<line x1="299.4" y1="669.2" x2="299.4" y2="671.2" stroke="#1a1a1a" stroke-width="0.9"/>
<line x1="301" y1="669.2" x2="301" y2="671.2" stroke="#1a1a1a" stroke-width="0.9"/>
<line x1="302.6" y1="669.2" x2="302.6" y2="671.2" stroke="#1a1a1a" stroke-width="0.9"/>
<line x1="304.2" y1="669.2" x2="304.2" y2="671.2" stroke="#1a1a1a" stroke-width="0.9"/>
<line x1="305.8" y1="669.2" x2="305.8" y2="671.2" stroke="#1a1a1a" stroke-width="0.9"/>
<text x="296" y="679.3" font-size="6.4" text-anchor="middle" fill="#333">0</text>
<text x="307.32" y="679.3" font-size="6.4" text-anchor="middle" fill="#333">10<tspan font-size="4.6" dy="-2.8">2</tspan></text>
<text x="329.16" y="679.3" font-size="6.4" text-anchor="middle" fill="#333">10<tspan font-size="4.6" dy="-2.8">3</tspan></text>
<text x="351.1" y="679.3" font-size="6.4" text-anchor="middle" fill="#333">10<tspan font-size="4.6" dy="-2.8">4</tspan></text>
<text x="372.75" y="679.3" font-size="6.4" text-anchor="middle" fill="#333">10<tspan font-size="4.6" dy="-2.8">5</tspan></text>
<text x="323.8" y="688.4" font-size="7.8" fill="#333" textLength="22.7" lengthAdjust="spacingAndGlyphs">Hoechst</text>
<text x="294.2" y="586.6" font-size="7.6" fill="#222" textLength="23" lengthAdjust="spacingAndGlyphs">shp21</text>
<line x1="451.5" y1="620.8" x2="511" y2="620.8" stroke="#222" stroke-width="1.2"/>
<line x1="451.5" y1="618.6" x2="451.5" y2="623" stroke="#222" stroke-width="1.2"/>
<line x1="459.2" y1="618.6" x2="459.2" y2="623" stroke="#222" stroke-width="1.2"/>
<line x1="465.4" y1="618.6" x2="465.4" y2="623" stroke="#222" stroke-width="1.2"/>
<polyline points="452.30,667.70 453.40,662.00 454.10,650.00 454.70,638.00 455.00,620.00 455.30,600.00 455.70,580.00 456.20,576.90 456.70,580.00 457.00,600.00 457.20,620.00 457.50,635.00 458.20,648.00 459.80,658.00 460.90,648.00 461.60,636.00 462.20,632.00 462.80,634.00 463.30,640.00 463.90,652.00 464.60,660.90 465.80,656.00 466.80,645.00 467.60,634.00 468.30,630.10 468.90,633.00 469.50,645.00 470.30,652.00 471.40,657.30 472.60,654.00 473.70,650.50 474.60,651.00 475.40,655.00 476.20,661.00 477.00,665.80 478.50,666.80 482.40,667.60" fill="none" stroke="#c8102e" stroke-width="1.35" stroke-linejoin="round"/>
<rect x="448" y="611.5" width="18" height="7.5" fill="#fff" />
<text x="448.5" y="618" font-size="6.8" fill="#333" textLength="16.9" lengthAdjust="spacingAndGlyphs">2N4N</text>
<text x="481.5" y="618" font-size="6.8" fill="#333" textLength="12.7" lengthAdjust="spacingAndGlyphs">≥8N</text>
<rect x="414.6" y="572.4" width="96.4" height="95.3" fill="none" stroke="#1a1a1a" stroke-width="1.2"/>
<line x1="411.4" y1="667.7" x2="414.6" y2="667.7" stroke="#1a1a1a" stroke-width="1.1"/>
<text x="408.9" y="670.29" font-size="7.3" text-anchor="end" fill="#333">0</text>
<line x1="411.4" y1="638.76" x2="414.6" y2="638.76" stroke="#1a1a1a" stroke-width="1.1"/>
<text x="408.9" y="641.35" font-size="7.3" text-anchor="end" fill="#333">20</text>
<line x1="411.4" y1="609.82" x2="414.6" y2="609.82" stroke="#1a1a1a" stroke-width="1.1"/>
<text x="408.9" y="612.41" font-size="7.3" text-anchor="end" fill="#333">40</text>
<line x1="411.4" y1="580.88" x2="414.6" y2="580.88" stroke="#1a1a1a" stroke-width="1.1"/>
<text x="408.9" y="583.47" font-size="7.3" text-anchor="end" fill="#333">60</text>
<line x1="412.6" y1="660.47" x2="414.6" y2="660.47" stroke="#1a1a1a" stroke-width="1.0"/>
<line x1="412.6" y1="653.23" x2="414.6" y2="653.23" stroke="#1a1a1a" stroke-width="1.0"/>
<line x1="412.6" y1="646" x2="414.6" y2="646" stroke="#1a1a1a" stroke-width="1.0"/>
<line x1="412.6" y1="631.53" x2="414.6" y2="631.53" stroke="#1a1a1a" stroke-width="1.0"/>
<line x1="412.6" y1="624.29" x2="414.6" y2="624.29" stroke="#1a1a1a" stroke-width="1.0"/>
<line x1="412.6" y1="617.06" x2="414.6" y2="617.06" stroke="#1a1a1a" stroke-width="1.0"/>
<line x1="412.6" y1="602.59" x2="414.6" y2="602.59" stroke="#1a1a1a" stroke-width="1.0"/>
<line x1="412.6" y1="595.35" x2="414.6" y2="595.35" stroke="#1a1a1a" stroke-width="1.0"/>
<line x1="412.6" y1="588.12" x2="414.6" y2="588.12" stroke="#1a1a1a" stroke-width="1.0"/>
<line x1="423.76" y1="667.7" x2="423.76" y2="670.7" stroke="#1a1a1a" stroke-width="1.1"/>
<line x1="434.84" y1="667.7" x2="434.84" y2="670.7" stroke="#1a1a1a" stroke-width="1.1"/>
<line x1="456.82" y1="667.7" x2="456.82" y2="670.7" stroke="#1a1a1a" stroke-width="1.1"/>
<line x1="478.9" y1="667.7" x2="478.9" y2="670.7" stroke="#1a1a1a" stroke-width="1.1"/>
<line x1="500.69" y1="667.7" x2="500.69" y2="670.7" stroke="#1a1a1a" stroke-width="1.1"/>
<line x1="441.46" y1="667.7" x2="441.46" y2="669.7" stroke="#1a1a1a" stroke-width="0.9"/>
<line x1="445.33" y1="667.7" x2="445.33" y2="669.7" stroke="#1a1a1a" stroke-width="0.9"/>
<line x1="448.08" y1="667.7" x2="448.08" y2="669.7" stroke="#1a1a1a" stroke-width="0.9"/>
<line x1="450.21" y1="667.7" x2="450.21" y2="669.7" stroke="#1a1a1a" stroke-width="0.9"/>
<line x1="451.95" y1="667.7" x2="451.95" y2="669.7" stroke="#1a1a1a" stroke-width="0.9"/>
<line x1="453.42" y1="667.7" x2="453.42" y2="669.7" stroke="#1a1a1a" stroke-width="0.9"/>
<line x1="454.69" y1="667.7" x2="454.69" y2="669.7" stroke="#1a1a1a" stroke-width="0.9"/>
<line x1="455.82" y1="667.7" x2="455.82" y2="669.7" stroke="#1a1a1a" stroke-width="0.9"/>
<line x1="463.44" y1="667.7" x2="463.44" y2="669.7" stroke="#1a1a1a" stroke-width="0.9"/>
<line x1="467.31" y1="667.7" x2="467.31" y2="669.7" stroke="#1a1a1a" stroke-width="0.9"/>
<line x1="470.06" y1="667.7" x2="470.06" y2="669.7" stroke="#1a1a1a" stroke-width="0.9"/>
<line x1="472.19" y1="667.7" x2="472.19" y2="669.7" stroke="#1a1a1a" stroke-width="0.9"/>
<line x1="473.93" y1="667.7" x2="473.93" y2="669.7" stroke="#1a1a1a" stroke-width="0.9"/>
<line x1="475.4" y1="667.7" x2="475.4" y2="669.7" stroke="#1a1a1a" stroke-width="0.9"/>
<line x1="476.67" y1="667.7" x2="476.67" y2="669.7" stroke="#1a1a1a" stroke-width="0.9"/>
<line x1="477.8" y1="667.7" x2="477.8" y2="669.7" stroke="#1a1a1a" stroke-width="0.9"/>
<line x1="485.52" y1="667.7" x2="485.52" y2="669.7" stroke="#1a1a1a" stroke-width="0.9"/>
<line x1="489.39" y1="667.7" x2="489.39" y2="669.7" stroke="#1a1a1a" stroke-width="0.9"/>
<line x1="492.13" y1="667.7" x2="492.13" y2="669.7" stroke="#1a1a1a" stroke-width="0.9"/>
<line x1="494.26" y1="667.7" x2="494.26" y2="669.7" stroke="#1a1a1a" stroke-width="0.9"/>
<line x1="496" y1="667.7" x2="496" y2="669.7" stroke="#1a1a1a" stroke-width="0.9"/>
<line x1="497.47" y1="667.7" x2="497.47" y2="669.7" stroke="#1a1a1a" stroke-width="0.9"/>
<line x1="498.75" y1="667.7" x2="498.75" y2="669.7" stroke="#1a1a1a" stroke-width="0.9"/>
<line x1="499.87" y1="667.7" x2="499.87" y2="669.7" stroke="#1a1a1a" stroke-width="0.9"/>
<line x1="507.3" y1="667.7" x2="507.3" y2="669.7" stroke="#1a1a1a" stroke-width="0.9"/>
<line x1="415.9" y1="667.7" x2="415.9" y2="669.7" stroke="#1a1a1a" stroke-width="0.9"/>
<line x1="417.5" y1="667.7" x2="417.5" y2="669.7" stroke="#1a1a1a" stroke-width="0.9"/>
<line x1="419.1" y1="667.7" x2="419.1" y2="669.7" stroke="#1a1a1a" stroke-width="0.9"/>
<line x1="420.7" y1="667.7" x2="420.7" y2="669.7" stroke="#1a1a1a" stroke-width="0.9"/>
<line x1="422.3" y1="667.7" x2="422.3" y2="669.7" stroke="#1a1a1a" stroke-width="0.9"/>
<line x1="425.5" y1="667.7" x2="425.5" y2="669.7" stroke="#1a1a1a" stroke-width="0.9"/>
<line x1="427.1" y1="667.7" x2="427.1" y2="669.7" stroke="#1a1a1a" stroke-width="0.9"/>
<line x1="428.7" y1="667.7" x2="428.7" y2="669.7" stroke="#1a1a1a" stroke-width="0.9"/>
<line x1="430.3" y1="667.7" x2="430.3" y2="669.7" stroke="#1a1a1a" stroke-width="0.9"/>
<line x1="431.9" y1="667.7" x2="431.9" y2="669.7" stroke="#1a1a1a" stroke-width="0.9"/>
<line x1="433.5" y1="667.7" x2="433.5" y2="669.7" stroke="#1a1a1a" stroke-width="0.9"/>
<text x="423.76" y="677.4" font-size="6.4" text-anchor="middle" fill="#333">0</text>
<text x="435.14" y="677.4" font-size="6.4" text-anchor="middle" fill="#333">10<tspan font-size="4.6" dy="-2.8">2</tspan></text>
<text x="457.12" y="677.4" font-size="6.4" text-anchor="middle" fill="#333">10<tspan font-size="4.6" dy="-2.8">3</tspan></text>
<text x="479.2" y="677.4" font-size="6.4" text-anchor="middle" fill="#333">10<tspan font-size="4.6" dy="-2.8">4</tspan></text>
<text x="500.99" y="677.4" font-size="6.4" text-anchor="middle" fill="#333">10<tspan font-size="4.6" dy="-2.8">5</tspan></text>
<text x="451.2" y="688.4" font-size="7.8" fill="#333" textLength="23.4" lengthAdjust="spacingAndGlyphs">Hoechst</text>
<text x="418.6" y="582" font-size="7.6" fill="#222" textLength="28.6" lengthAdjust="spacingAndGlyphs">shp19+</text>
<text x="418.6" y="592.4" font-size="7.6" fill="#222" textLength="23" lengthAdjust="spacingAndGlyphs">shp21</text>
<text transform="translate(8.2,469.2) scale(1.0,1)" x="0" y="0" font-size="11.3" font-weight="bold" fill="#000">E</text>
<rect x="61.5" y="562.1" width="5.4" height="38.8" fill="#e0718a" />
<rect x="70.9" y="577.2" width="5.4" height="23.7" fill="#6c96c2" />
<rect x="80.2" y="572.6" width="5.5" height="28.3" fill="#88d58d" />
<rect x="95.6" y="537" width="5.6" height="63.9" fill="#e0718a" />
<rect x="105.2" y="581.3" width="5.5" height="19.6" fill="#6c96c2" />
<rect x="114.3" y="592.5" width="5.5" height="8.4" fill="#88d58d" />
<rect x="129.6" y="539" width="5.7" height="61.9" fill="#e0718a" />
<rect x="139.2" y="584.3" width="5.6" height="16.6" fill="#6c96c2" />
<rect x="148.3" y="588.8" width="5.5" height="12.1" fill="#88d58d" />
<rect x="163.9" y="544.5" width="5.4" height="56.4" fill="#e0718a" />
<rect x="173.2" y="579.1" width="5.6" height="21.8" fill="#6c96c2" />
<rect x="182.3" y="586" width="5.5" height="14.9" fill="#88d58d" />
<rect x="197.6" y="541.6" width="5.6" height="59.3" fill="#e0718a" />
<rect x="207.2" y="585.6" width="5.1" height="15.3" fill="#6c96c2" />
<rect x="216.3" y="585.6" width="5.5" height="15.3" fill="#88d58d" />
<line x1="64.2" y1="552.3" x2="64.2" y2="570.2" stroke="#222" stroke-width="1.2"/>
<line x1="62" y1="552.3" x2="66.4" y2="552.3" stroke="#222" stroke-width="1.2"/>
<line x1="62" y1="570.2" x2="66.4" y2="570.2" stroke="#222" stroke-width="1.2"/>
<circle cx="64.2" cy="551" r="1.3" fill="#d0102e"/>
<circle cx="64.2" cy="556.8" r="1.3" fill="#d0102e"/>
<circle cx="63.2" cy="569.6" r="1.3" fill="#d0102e"/>
<circle cx="66.4" cy="567.8" r="1.3" fill="#d0102e"/>
<line x1="73.6" y1="570.5" x2="73.6" y2="583.3" stroke="#222" stroke-width="1.2"/>
<line x1="71.4" y1="570.5" x2="75.8" y2="570.5" stroke="#222" stroke-width="1.2"/>
<line x1="71.4" y1="583.3" x2="75.8" y2="583.3" stroke="#222" stroke-width="1.2"/>
<rect x="72.15" y="566.45" width="2.3" height="2.3" fill="#17508f" />
<rect x="71.45" y="577.45" width="2.3" height="2.3" fill="#17508f" />
<rect x="73.35" y="579.35" width="2.3" height="2.3" fill="#17508f" />
<rect x="72.45" y="581.75" width="2.3" height="2.3" fill="#17508f" />
<line x1="82.95" y1="561" x2="82.95" y2="583.4" stroke="#222" stroke-width="1.2"/>
<line x1="80.75" y1="561" x2="85.15" y2="561" stroke="#222" stroke-width="1.2"/>
<line x1="80.75" y1="583.4" x2="85.15" y2="583.4" stroke="#222" stroke-width="1.2"/>
<polygon points="82.6,556.52 81.25,559.08 83.95,559.08" fill="#1faa45"/>
<polygon points="82.9,572.22 81.55,574.78 84.25,574.78" fill="#1faa45"/>
<polygon points="82,578.72 80.65,581.28 83.35,581.28" fill="#1faa45"/>
<polygon points="83.6,581.72 82.25,584.28 84.95,584.28" fill="#1faa45"/>
<line x1="98.4" y1="526.4" x2="98.4" y2="546.7" stroke="#222" stroke-width="1.2"/>
<line x1="96.2" y1="526.4" x2="100.6" y2="526.4" stroke="#222" stroke-width="1.2"/>
<line x1="96.2" y1="546.7" x2="100.6" y2="546.7" stroke="#222" stroke-width="1.2"/>
<circle cx="98.2" cy="523.4" r="1.3" fill="#d0102e"/>
<circle cx="98.2" cy="532.9" r="1.3" fill="#d0102e"/>
<circle cx="98.2" cy="542.2" r="1.3" fill="#d0102e"/>
<circle cx="98.2" cy="546.3" r="1.3" fill="#d0102e"/>
<line x1="107.95" y1="573.9" x2="107.95" y2="588.8" stroke="#222" stroke-width="1.2"/>
<line x1="105.75" y1="573.9" x2="110.15" y2="573.9" stroke="#222" stroke-width="1.2"/>
<line x1="105.75" y1="588.8" x2="110.15" y2="588.8" stroke="#222" stroke-width="1.2"/>
<rect x="106.35" y="570.55" width="2.3" height="2.3" fill="#17508f" />
<rect x="106.35" y="577.35" width="2.3" height="2.3" fill="#17508f" />
<rect x="106.35" y="583.15" width="2.3" height="2.3" fill="#17508f" />
<rect x="106.35" y="587.65" width="2.3" height="2.3" fill="#17508f" />
<line x1="117.05" y1="586" x2="117.05" y2="599.5" stroke="#222" stroke-width="1.2"/>
<line x1="114.85" y1="586" x2="119.25" y2="586" stroke="#222" stroke-width="1.2"/>
<line x1="114.85" y1="599.5" x2="119.25" y2="599.5" stroke="#222" stroke-width="1.2"/>
<polygon points="117,593.02 115.65,595.58 118.35,595.58" fill="#1faa45"/>
<polygon points="117,596.02 115.65,598.58 118.35,598.58" fill="#1faa45"/>
<line x1="132.45" y1="523" x2="132.45" y2="553.2" stroke="#222" stroke-width="1.2"/>
<line x1="130.25" y1="523" x2="134.65" y2="523" stroke="#222" stroke-width="1.2"/>
<line x1="130.25" y1="553.2" x2="134.65" y2="553.2" stroke="#222" stroke-width="1.2"/>
<circle cx="130.5" cy="526.9" r="1.3" fill="#d0102e"/>
<circle cx="134" cy="526" r="1.3" fill="#d0102e"/>
<circle cx="132.2" cy="542.2" r="1.3" fill="#d0102e"/>
<circle cx="132.2" cy="557.1" r="1.3" fill="#d0102e"/>
<line x1="142" y1="576.9" x2="142" y2="589" stroke="#222" stroke-width="1.2"/>
<line x1="139.8" y1="576.9" x2="144.2" y2="576.9" stroke="#222" stroke-width="1.2"/>
<line x1="139.8" y1="589" x2="144.2" y2="589" stroke="#222" stroke-width="1.2"/>
<rect x="140.35" y="573.45" width="2.3" height="2.3" fill="#17508f" />
<rect x="140.35" y="580.55" width="2.3" height="2.3" fill="#17508f" />
<rect x="139.35" y="587.65" width="2.3" height="2.3" fill="#17508f" />
<rect x="141.65" y="588.35" width="2.3" height="2.3" fill="#17508f" />
<line x1="151.05" y1="575.6" x2="151.05" y2="600" stroke="#222" stroke-width="1.2"/>
<line x1="148.85" y1="575.6" x2="153.25" y2="575.6" stroke="#222" stroke-width="1.2"/>
<line x1="148.85" y1="600" x2="153.25" y2="600" stroke="#222" stroke-width="1.2"/>
<polygon points="150,590.12 148.65,592.68 151.35,592.68" fill="#1faa45"/>
<polygon points="152,594.32 150.65,596.88 153.35,596.88" fill="#1faa45"/>
<polygon points="151,597.92 149.65,600.48 152.35,600.48" fill="#1faa45"/>
<line x1="166.6" y1="529.2" x2="166.6" y2="558.4" stroke="#222" stroke-width="1.2"/>
<line x1="164.4" y1="529.2" x2="168.8" y2="529.2" stroke="#222" stroke-width="1.2"/>
<line x1="164.4" y1="558.4" x2="168.8" y2="558.4" stroke="#222" stroke-width="1.2"/>
<circle cx="166.4" cy="526" r="1.3" fill="#d0102e"/>
<circle cx="166.4" cy="541.6" r="1.3" fill="#d0102e"/>
<circle cx="166.4" cy="546.1" r="1.3" fill="#d0102e"/>
<circle cx="166.4" cy="561" r="1.3" fill="#d0102e"/>
<line x1="176" y1="575.2" x2="176" y2="587.3" stroke="#222" stroke-width="1.2"/>
<line x1="173.8" y1="575.2" x2="178.2" y2="575.2" stroke="#222" stroke-width="1.2"/>
<line x1="173.8" y1="587.3" x2="178.2" y2="587.3" stroke="#222" stroke-width="1.2"/>
<rect x="174.65" y="573.15" width="2.3" height="2.3" fill="#17508f" />
<rect x="174.65" y="579.25" width="2.3" height="2.3" fill="#17508f" />
<rect x="174.65" y="586.15" width="2.3" height="2.3" fill="#17508f" />
<line x1="185.05" y1="572" x2="185.05" y2="600" stroke="#222" stroke-width="1.2"/>
<line x1="182.85" y1="572" x2="187.25" y2="572" stroke="#222" stroke-width="1.2"/>
<line x1="182.85" y1="600" x2="187.25" y2="600" stroke="#222" stroke-width="1.2"/>
<polygon points="185,565.82 183.65,568.38 186.35,568.38" fill="#1faa45"/>
<polygon points="185,590.72 183.65,593.28 186.35,593.28" fill="#1faa45"/>
<polygon points="185,595.72 183.65,598.28 186.35,598.28" fill="#1faa45"/>
<line x1="200.4" y1="524.7" x2="200.4" y2="557.5" stroke="#222" stroke-width="1.2"/>
<line x1="198.2" y1="524.7" x2="202.6" y2="524.7" stroke="#222" stroke-width="1.2"/>
<line x1="198.2" y1="557.5" x2="202.6" y2="557.5" stroke="#222" stroke-width="1.2"/>
<circle cx="200.4" cy="529.2" r="1.3" fill="#d0102e"/>
<circle cx="200.4" cy="534.4" r="1.3" fill="#d0102e"/>
<circle cx="200.4" cy="559.3" r="1.3" fill="#d0102e"/>
<line x1="209.75" y1="580.8" x2="209.75" y2="588.2" stroke="#222" stroke-width="1.2"/>
<line x1="207.55" y1="580.8" x2="211.95" y2="580.8" stroke="#222" stroke-width="1.2"/>
<line x1="207.55" y1="588.2" x2="211.95" y2="588.2" stroke="#222" stroke-width="1.2"/>
<rect x="208.55" y="580.55" width="2.3" height="2.3" fill="#17508f" />
<rect x="208.55" y="583.85" width="2.3" height="2.3" fill="#17508f" />
<rect x="208.55" y="587.05" width="2.3" height="2.3" fill="#17508f" />
<line x1="219.05" y1="569.7" x2="219.05" y2="600" stroke="#222" stroke-width="1.2"/>
<line x1="216.85" y1="569.7" x2="221.25" y2="569.7" stroke="#222" stroke-width="1.2"/>
<line x1="216.85" y1="600" x2="221.25" y2="600" stroke="#222" stroke-width="1.2"/>
<polygon points="218.9,566.22 217.55,568.78 220.25,568.78" fill="#1faa45"/>
<polygon points="218.9,588.72 217.55,591.28 220.25,591.28" fill="#1faa45"/>
<polygon points="218.9,594.72 217.55,597.28 220.25,597.28" fill="#1faa45"/>
<line x1="56" y1="505.1" x2="56" y2="601.55" stroke="#231f20" stroke-width="1.3"/>
<line x1="52.9" y1="600.9" x2="56" y2="600.9" stroke="#231f20" stroke-width="1.1"/>
<text x="50.9" y="603.5" font-size="7.0" text-anchor="end" fill="#333" textLength="4.28" lengthAdjust="spacingAndGlyphs">0</text>
<line x1="52.9" y1="581.86" x2="56" y2="581.86" stroke="#231f20" stroke-width="1.1"/>
<text x="50.9" y="584.46" font-size="7.0" text-anchor="end" fill="#333" textLength="8.56" lengthAdjust="spacingAndGlyphs">20</text>
<line x1="52.9" y1="562.82" x2="56" y2="562.82" stroke="#231f20" stroke-width="1.1"/>
<text x="50.9" y="565.42" font-size="7.0" text-anchor="end" fill="#333" textLength="8.56" lengthAdjust="spacingAndGlyphs">40</text>
<line x1="52.9" y1="543.78" x2="56" y2="543.78" stroke="#231f20" stroke-width="1.1"/>
<text x="50.9" y="546.38" font-size="7.0" text-anchor="end" fill="#333" textLength="8.56" lengthAdjust="spacingAndGlyphs">60</text>
<line x1="52.9" y1="524.74" x2="56" y2="524.74" stroke="#231f20" stroke-width="1.1"/>
<text x="50.9" y="527.34" font-size="7.0" text-anchor="end" fill="#333" textLength="8.56" lengthAdjust="spacingAndGlyphs">80</text>
<line x1="52.9" y1="505.7" x2="56" y2="505.7" stroke="#231f20" stroke-width="1.1"/>
<text x="50.9" y="508.3" font-size="7.0" text-anchor="end" fill="#333" textLength="12.84" lengthAdjust="spacingAndGlyphs">100</text>
<line x1="55.4" y1="601.3" x2="226.7" y2="601.3" stroke="#231f20" stroke-width="1.2"/>
<text transform="translate(38,580.6) rotate(-90)" x="0" y="0" font-size="8.8" fill="#231f20" stroke="#231f20" stroke-width="0.18" textLength="53.4" lengthAdjust="spacingAndGlyphs">% CD41+ CD42+</text>
<line x1="82.3" y1="498.8" x2="117.4" y2="498.8" stroke="#222" stroke-width="1.3"/>
<line x1="82.3" y1="497" x2="82.3" y2="500.6" stroke="#222" stroke-width="1.2"/>
<line x1="117.4" y1="497" x2="117.4" y2="500.6" stroke="#222" stroke-width="1.2"/>
<text x="98.2" y="499.65" font-size="7.5" text-anchor="middle" font-weight="bold" fill="#222">*</text>
<line x1="82.3" y1="490.9" x2="219.9" y2="490.9" stroke="#222" stroke-width="1.3"/>
<line x1="82.3" y1="489.1" x2="82.3" y2="492.7" stroke="#222" stroke-width="1.2"/>
<line x1="219.9" y1="489.1" x2="219.9" y2="492.7" stroke="#222" stroke-width="1.2"/>
<text x="147.9" y="487.5" font-size="8.8" fill="#222" textLength="10" lengthAdjust="spacingAndGlyphs">ns</text>
<circle cx="235.2" cy="573.3" r="1.3" fill="#d0102e"/>
<text x="240.8" y="575.6" font-size="6.4" fill="#333" textLength="10" lengthAdjust="spacingAndGlyphs">2N</text>
<rect x="234.05" y="583.65" width="2.3" height="2.3" fill="#17508f" />
<text x="240.8" y="587.1" font-size="6.4" fill="#333" textLength="10" lengthAdjust="spacingAndGlyphs">4N</text>
<polygon points="235.2,595.72 233.85,598.28 236.55,598.28" fill="#1faa45"/>
<text x="240.8" y="598.7" font-size="6.4" fill="#333" textLength="15" lengthAdjust="spacingAndGlyphs">&gt;4N</text>
<text x="26.2" y="618" font-size="6.4" fill="#333" textLength="19.7" lengthAdjust="spacingAndGlyphs">shCTL</text>
<text x="6.2" y="632.1" font-size="6.4" fill="#333" textLength="35.9" lengthAdjust="spacingAndGlyphs">shCDKN2D</text>
<text x="6.6" y="644.8" font-size="6.4" fill="#333" textLength="35.5" lengthAdjust="spacingAndGlyphs">shCDKN1A</text>
<line x1="72" y1="614.7" x2="75.8" y2="614.7" stroke="#555" stroke-width="1.0"/>
<line x1="73.9" y1="612.8" x2="73.9" y2="616.6" stroke="#555" stroke-width="1.0"/>
<line x1="105.9" y1="614.7" x2="109.7" y2="614.7" stroke="#555" stroke-width="1.0"/>
<line x1="107.8" y1="612.8" x2="107.8" y2="616.6" stroke="#555" stroke-width="1.0"/>
<line x1="140" y1="614.7" x2="143.8" y2="614.7" stroke="#555" stroke-width="1.0"/>
<line x1="174" y1="614.7" x2="177.8" y2="614.7" stroke="#555" stroke-width="1.0"/>
<line x1="207.9" y1="614.7" x2="211.7" y2="614.7" stroke="#555" stroke-width="1.0"/>
<line x1="72" y1="629.3" x2="75.8" y2="629.3" stroke="#555" stroke-width="1.0"/>
<line x1="105.9" y1="629.3" x2="109.7" y2="629.3" stroke="#555" stroke-width="1.0"/>
<line x1="140" y1="629.3" x2="143.8" y2="629.3" stroke="#555" stroke-width="1.0"/>
<line x1="141.9" y1="627.4" x2="141.9" y2="631.2" stroke="#555" stroke-width="1.0"/>
<line x1="174" y1="629.3" x2="177.8" y2="629.3" stroke="#555" stroke-width="1.0"/>
<line x1="207.9" y1="629.3" x2="211.7" y2="629.3" stroke="#555" stroke-width="1.0"/>
<line x1="72" y1="641.4" x2="75.8" y2="641.4" stroke="#555" stroke-width="1.0"/>
<line x1="105.9" y1="641.4" x2="109.7" y2="641.4" stroke="#555" stroke-width="1.0"/>
<line x1="140" y1="641.4" x2="143.8" y2="641.4" stroke="#555" stroke-width="1.0"/>
<line x1="174" y1="641.4" x2="177.8" y2="641.4" stroke="#555" stroke-width="1.0"/>
<line x1="207.9" y1="641.4" x2="211.7" y2="641.4" stroke="#555" stroke-width="1.0"/>
<line x1="56.8" y1="656.3" x2="86.8" y2="656.3" stroke="#222" stroke-width="1.3"/>
<line x1="94.5" y1="656.2" x2="225.6" y2="656.2" stroke="#222" stroke-width="1.3"/>
<text x="66.8" y="667" font-size="7.4" fill="#333" textLength="14" lengthAdjust="spacingAndGlyphs">CTL</text>
<text x="146.4" y="667" font-size="7.4" fill="#333" textLength="28.8" lengthAdjust="spacingAndGlyphs">GSK343</text>
<rect x="0" y="0" width="520" height="1.2" fill="#000" />
<rect x="0" y="0" width="1.3" height="695" fill="#000" />
<rect x="518.8" y="0" width="1.2" height="695" fill="#000" />
<rect x="0" y="693.6" width="520" height="1.4" fill="#000" />
</svg></body></html>
